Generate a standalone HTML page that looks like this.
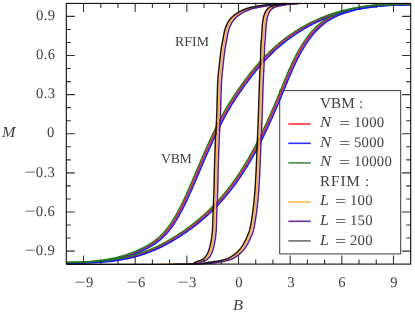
<!DOCTYPE html>
<html><head><meta charset="utf-8"><title>Hysteresis</title>
<style>
html,body{margin:0;padding:0;background:#fff;overflow:hidden;}
body{width:415px;height:312px;position:relative;overflow:hidden;font-family:"Liberation Serif",serif;}
.t{will-change:transform;text-rendering:geometricPrecision;position:absolute;white-space:nowrap;line-height:1;color:#404040;font-family:"Liberation Serif",serif;}
</style></head><body>
<svg width="415" height="312" viewBox="0 0 415 312" style="position:absolute;left:0;top:0">
<defs><clipPath id="cp"><rect x="66.3" y="2.9499999999999997" width="344.4" height="261.6"/></clipPath></defs>
<rect x="279.7" y="90.6" width="121.0" height="163.3" fill="#fff" stroke="#3a3a3a" stroke-width="1"/>
<g clip-path="url(#cp)" fill="none" stroke-linejoin="round" stroke-linecap="butt">
<path d="M66.50,262.79 L67.58,262.77 L68.66,262.75 L69.74,262.74 L70.81,262.72 L71.89,262.70 L72.97,262.68 L74.05,262.66 L75.13,262.64 L76.21,262.62 L77.29,262.60 L78.37,262.58 L79.44,262.55 L80.52,262.53 L81.60,262.50 L82.68,262.47 L83.76,262.44 L84.84,262.40 L85.92,262.37 L86.99,262.33 L88.07,262.29 L89.15,262.24 L90.23,262.19 L91.31,262.14 L92.39,262.09 L93.47,262.03 L94.55,261.97 L95.62,261.91 L96.70,261.84 L97.78,261.77 L98.86,261.70 L99.94,261.62 L101.02,261.53 L102.10,261.45 L103.18,261.35 L104.25,261.25 L105.33,261.15 L106.41,261.04 L107.49,260.93 L108.57,260.81 L109.65,260.69 L110.73,260.56 L111.80,260.43 L112.88,260.28 L113.96,260.14 L115.04,259.98 L116.12,259.82 L117.20,259.66 L118.28,259.48 L119.36,259.30 L120.43,259.12 L121.51,258.92 L122.59,258.72 L123.67,258.51 L124.75,258.30 L125.83,258.07 L126.91,257.84 L127.98,257.60 L129.06,257.36 L130.14,257.10 L131.22,256.84 L132.30,256.56 L133.38,256.28 L134.46,255.99 L135.54,255.69 L136.61,255.38 L137.69,255.07 L138.77,254.74 L139.85,254.40 L140.93,254.05 L142.01,253.70 L143.09,253.33 L144.17,252.96 L145.24,252.57 L146.32,252.18 L147.40,251.77 L148.48,251.36 L149.56,250.93 L150.64,250.50 L151.72,250.05 L152.79,249.60 L153.87,249.13 L154.95,248.66 L156.03,248.18 L157.11,247.68 L158.19,247.18 L159.27,246.67 L160.35,246.14 L161.42,245.61 L162.50,245.07 L163.58,244.52 L164.66,243.95 L165.74,243.38 L166.82,242.80 L167.90,242.21 L168.97,241.61 L170.05,240.99 L171.13,240.37 L172.21,239.74 L173.29,239.10 L174.37,238.45 L175.45,237.79 L176.53,237.11 L177.60,236.43 L178.68,235.74 L179.76,235.04 L180.84,234.33 L181.92,233.61 L183.00,232.88 L184.08,232.14 L185.16,231.39 L186.23,230.62 L187.31,229.85 L188.39,229.07 L189.47,228.28 L190.55,227.48 L191.63,226.67 L192.71,225.85 L193.78,225.02 L194.86,224.18 L195.94,223.32 L197.02,222.46 L198.10,221.58 L199.18,220.69 L200.26,219.79 L201.34,218.88 L202.41,217.95 L203.49,217.01 L204.57,216.06 L205.65,215.09 L206.73,214.11 L207.81,213.11 L208.89,212.10 L209.96,211.07 L211.04,210.03 L212.12,208.97 L213.20,207.90 L214.28,206.80 L215.36,205.69 L216.44,204.56 L217.52,203.42 L218.59,202.25 L219.67,201.07 L220.75,199.87 L221.83,198.64 L222.91,197.40 L223.99,196.14 L225.07,194.86 L226.15,193.55 L227.22,192.23 L228.30,190.88 L229.38,189.51 L230.46,188.12 L231.54,186.71 L232.62,185.28 L233.70,183.82 L234.77,182.33 L235.85,180.83 L236.93,179.30 L238.01,177.74 L239.09,176.16 L240.17,174.55 L241.25,172.92 L242.33,171.26 L243.40,169.58 L244.48,167.86 L245.56,166.12 L246.64,164.36 L247.72,162.56 L248.80,160.74 L249.88,158.89 L250.95,157.01 L252.03,155.10 L253.11,153.16 L254.19,151.19 L255.27,149.19 L256.35,147.16 L257.43,145.10 L258.51,143.01 L259.58,140.88 L260.66,138.72 L261.74,136.54 L262.82,134.32 L263.90,132.07 L264.98,129.80 L266.06,127.50 L267.14,125.17 L268.21,122.81 L269.29,120.43 L270.37,118.03 L271.45,115.60 L272.53,113.15 L273.61,110.67 L274.69,108.18 L275.76,105.66 L276.84,103.13 L277.92,100.58 L279.00,98.01 L280.08,95.42 L281.16,92.82 L282.24,90.20 L283.32,87.57 L284.39,84.93 L285.47,82.30 L286.55,79.68 L287.63,77.08 L288.71,74.52 L289.79,71.99 L290.87,69.51 L291.94,67.09 L293.02,64.73 L294.10,62.44 L295.18,60.21 L296.26,58.06 L297.34,55.96 L298.42,53.93 L299.50,51.96 L300.57,50.06 L301.65,48.21 L302.73,46.43 L303.81,44.71 L304.89,43.04 L305.97,41.43 L307.05,39.88 L308.13,38.38 L309.20,36.94 L310.28,35.56 L311.36,34.22 L312.44,32.94 L313.52,31.71 L314.60,30.53 L315.68,29.39 L316.75,28.31 L317.83,27.27 L318.91,26.27 L319.99,25.31 L321.07,24.40 L322.15,23.53 L323.23,22.69 L324.31,21.89 L325.38,21.13 L326.46,20.41 L327.54,19.71 L328.62,19.05 L329.70,18.42 L330.78,17.81 L331.86,17.24 L332.93,16.69 L334.01,16.16 L335.09,15.66 L336.17,15.18 L337.25,14.72 L338.33,14.28 L339.41,13.86 L340.49,13.45 L341.56,13.06 L342.64,12.69 L343.72,12.32 L344.80,11.97 L345.88,11.63 L346.96,11.29 L348.04,10.97 L349.12,10.66 L350.19,10.36 L351.27,10.07 L352.35,9.79 L353.43,9.52 L354.51,9.26 L355.59,9.01 L356.67,8.76 L357.74,8.53 L358.82,8.31 L359.90,8.09 L360.98,7.88 L362.06,7.68 L363.14,7.49 L364.22,7.31 L365.30,7.13 L366.37,6.96 L367.45,6.80 L368.53,6.65 L369.61,6.50 L370.69,6.36 L371.77,6.23 L372.85,6.10 L373.92,5.99 L375.00,5.87 L376.08,5.77 L377.16,5.66 L378.24,5.57 L379.32,5.48 L380.40,5.40 L381.48,5.32 L382.55,5.24 L383.63,5.17 L384.71,5.11 L385.79,5.05 L386.87,5.00 L387.95,4.94 L389.03,4.90 L390.11,4.85 L391.18,4.82 L392.26,4.78 L393.34,4.75 L394.42,4.72 L395.50,4.69 L396.58,4.67 L397.66,4.65 L398.73,4.63 L399.81,4.62 L400.89,4.61 L401.97,4.59 L403.05,4.59 L404.13,4.58 L405.21,4.57 L406.29,4.57 L407.36,4.57 L408.44,4.56 L409.52,4.56 L410.60,4.56" stroke="#ff1a1a" stroke-width="1.55"/>
<path d="M66.50,262.67 L67.58,262.67 L68.66,262.67 L69.74,262.67 L70.81,262.66 L71.89,262.66 L72.97,262.65 L74.05,262.64 L75.13,262.62 L76.21,262.61 L77.29,262.59 L78.37,262.56 L79.44,262.54 L80.52,262.51 L81.60,262.48 L82.68,262.44 L83.76,262.40 L84.84,262.36 L85.92,262.31 L86.99,262.25 L88.07,262.19 L89.15,262.13 L90.23,262.06 L91.31,261.99 L92.39,261.91 L93.47,261.83 L94.55,261.74 L95.62,261.64 L96.70,261.54 L97.78,261.43 L98.86,261.32 L99.94,261.20 L101.02,261.07 L102.10,260.94 L103.18,260.80 L104.25,260.65 L105.33,260.49 L106.41,260.33 L107.49,260.16 L108.57,259.98 L109.65,259.80 L110.73,259.60 L111.80,259.40 L112.88,259.19 L113.96,258.97 L115.04,258.74 L116.12,258.50 L117.20,258.25 L118.28,258.00 L119.36,257.73 L120.43,257.45 L121.51,257.17 L122.59,256.87 L123.67,256.57 L124.75,256.25 L125.83,255.93 L126.91,255.59 L127.98,255.24 L129.06,254.88 L130.14,254.51 L131.22,254.13 L132.30,253.74 L133.38,253.33 L134.46,252.91 L135.54,252.49 L136.61,252.05 L137.69,251.59 L138.77,251.13 L139.85,250.65 L140.93,250.16 L142.01,249.65 L143.09,249.13 L144.17,248.60 L145.24,248.06 L146.32,247.50 L147.40,246.92 L148.48,246.32 L149.56,245.70 L150.64,245.06 L151.72,244.38 L152.79,243.68 L153.87,242.95 L154.95,242.19 L156.03,241.40 L157.11,240.56 L158.19,239.69 L159.27,238.78 L160.35,237.82 L161.42,236.82 L162.50,235.78 L163.58,234.68 L164.66,233.53 L165.74,232.33 L166.82,231.08 L167.90,229.77 L168.97,228.39 L170.05,226.96 L171.13,225.47 L172.21,223.90 L173.29,222.28 L174.37,220.59 L175.45,218.84 L176.53,217.03 L177.60,215.16 L178.68,213.23 L179.76,211.24 L180.84,209.20 L181.92,207.10 L183.00,204.94 L184.08,202.74 L185.16,200.48 L186.23,198.17 L187.31,195.83 L188.39,193.44 L189.47,191.03 L190.55,188.58 L191.63,186.11 L192.71,183.61 L193.78,181.10 L194.86,178.58 L195.94,176.05 L197.02,173.52 L198.10,170.98 L199.18,168.45 L200.26,165.92 L201.34,163.41 L202.41,160.90 L203.49,158.40 L204.57,155.91 L205.65,153.44 L206.73,150.99 L207.81,148.55 L208.89,146.13 L209.96,143.73 L211.04,141.35 L212.12,139.00 L213.20,136.68 L214.28,134.38 L215.36,132.11 L216.44,129.87 L217.52,127.66 L218.59,125.49 L219.67,123.35 L220.75,121.25 L221.83,119.19 L222.91,117.17 L223.99,115.19 L225.07,113.25 L226.15,111.35 L227.22,109.48 L228.30,107.65 L229.38,105.85 L230.46,104.08 L231.54,102.35 L232.62,100.64 L233.70,98.96 L234.77,97.30 L235.85,95.67 L236.93,94.06 L238.01,92.47 L239.09,90.91 L240.17,89.35 L241.25,87.82 L242.33,86.31 L243.40,84.81 L244.48,83.32 L245.56,81.86 L246.64,80.41 L247.72,78.98 L248.80,77.56 L249.88,76.16 L250.95,74.78 L252.03,73.42 L253.11,72.08 L254.19,70.75 L255.27,69.44 L256.35,68.15 L257.43,66.87 L258.51,65.61 L259.58,64.38 L260.66,63.15 L261.74,61.95 L262.82,60.77 L263.90,59.60 L264.98,58.45 L266.06,57.32 L267.14,56.21 L268.21,55.12 L269.29,54.04 L270.37,52.98 L271.45,51.94 L272.53,50.92 L273.61,49.91 L274.69,48.92 L275.76,47.95 L276.84,46.99 L277.92,46.05 L279.00,45.12 L280.08,44.21 L281.16,43.32 L282.24,42.44 L283.32,41.57 L284.39,40.72 L285.47,39.89 L286.55,39.07 L287.63,38.26 L288.71,37.46 L289.79,36.68 L290.87,35.92 L291.94,35.16 L293.02,34.42 L294.10,33.69 L295.18,32.97 L296.26,32.27 L297.34,31.57 L298.42,30.89 L299.50,30.22 L300.57,29.56 L301.65,28.91 L302.73,28.28 L303.81,27.65 L304.89,27.03 L305.97,26.43 L307.05,25.84 L308.13,25.25 L309.20,24.68 L310.28,24.12 L311.36,23.56 L312.44,23.02 L313.52,22.49 L314.60,21.97 L315.68,21.45 L316.75,20.95 L317.83,20.46 L318.91,19.98 L319.99,19.50 L321.07,19.04 L322.15,18.59 L323.23,18.14 L324.31,17.71 L325.38,17.28 L326.46,16.86 L327.54,16.45 L328.62,16.05 L329.70,15.66 L330.78,15.28 L331.86,14.91 L332.93,14.54 L334.01,14.19 L335.09,13.84 L336.17,13.50 L337.25,13.17 L338.33,12.84 L339.41,12.53 L340.49,12.22 L341.56,11.92 L342.64,11.63 L343.72,11.35 L344.80,11.07 L345.88,10.80 L346.96,10.54 L348.04,10.28 L349.12,10.04 L350.19,9.80 L351.27,9.56 L352.35,9.34 L353.43,9.12 L354.51,8.90 L355.59,8.70 L356.67,8.50 L357.74,8.30 L358.82,8.11 L359.90,7.93 L360.98,7.76 L362.06,7.59 L363.14,7.42 L364.22,7.27 L365.30,7.11 L366.37,6.97 L367.45,6.83 L368.53,6.69 L369.61,6.56 L370.69,6.43 L371.77,6.31 L372.85,6.20 L373.92,6.09 L375.00,5.98 L376.08,5.88 L377.16,5.78 L378.24,5.69 L379.32,5.60 L380.40,5.52 L381.48,5.44 L382.55,5.36 L383.63,5.29 L384.71,5.22 L385.79,5.16 L386.87,5.10 L387.95,5.04 L389.03,4.99 L390.11,4.94 L391.18,4.89 L392.26,4.85 L393.34,4.81 L394.42,4.77 L395.50,4.74 L396.58,4.71 L397.66,4.68 L398.73,4.65 L399.81,4.63 L400.89,4.61 L401.97,4.59 L403.05,4.57 L404.13,4.55 L405.21,4.54 L406.29,4.53 L407.36,4.52 L408.44,4.51 L409.52,4.50 L410.60,4.50" stroke="#ff1a1a" stroke-width="1.55"/>
<path d="M67.20,263.10 L68.29,263.09 L69.38,263.07 L70.46,263.06 L71.55,263.05 L72.64,263.03 L73.73,263.02 L74.82,263.00 L75.90,262.99 L76.99,262.97 L78.08,262.95 L79.17,262.94 L80.27,262.92 L81.36,262.90 L82.45,262.88 L83.55,262.85 L84.64,262.83 L85.74,262.80 L86.83,262.77 L87.93,262.74 L89.03,262.71 L90.13,262.68 L91.24,262.64 L92.34,262.60 L93.45,262.56 L94.55,262.52 L95.66,262.47 L96.77,262.42 L97.89,262.37 L99.00,262.31 L100.12,262.26 L101.24,262.19 L102.36,262.13 L103.45,262.05 L104.53,261.95 L105.60,261.85 L106.68,261.75 L107.76,261.64 L108.84,261.53 L109.92,261.41 L111.00,261.29 L112.08,261.16 L113.15,261.03 L114.23,260.88 L115.31,260.74 L116.39,260.58 L117.47,260.42 L118.55,260.26 L119.63,260.08 L120.71,259.90 L121.78,259.72 L122.86,259.52 L123.94,259.32 L125.02,259.11 L126.10,258.90 L127.18,258.67 L128.26,258.44 L129.33,258.20 L130.41,257.96 L131.49,257.70 L132.57,257.44 L133.65,257.16 L134.73,256.88 L135.81,256.59 L136.89,256.29 L137.96,255.98 L139.04,255.67 L140.12,255.34 L141.20,255.00 L142.28,254.65 L143.36,254.30 L144.44,253.93 L145.52,253.56 L146.59,253.17 L147.67,252.78 L148.75,252.37 L149.83,251.96 L150.91,251.53 L151.99,251.10 L153.07,250.65 L154.14,250.20 L155.22,249.73 L156.30,249.26 L157.38,248.78 L158.46,248.28 L159.54,247.78 L160.62,247.27 L161.70,246.74 L162.77,246.21 L163.85,245.67 L164.93,245.12 L166.01,244.55 L167.09,243.98 L168.17,243.40 L169.25,242.81 L170.32,242.21 L171.40,241.59 L172.48,240.97 L173.56,240.34 L174.64,239.70 L175.72,239.05 L176.80,238.39 L177.88,237.71 L178.95,237.03 L180.03,236.34 L181.11,235.64 L182.19,234.93 L183.27,234.21 L184.35,233.48 L185.43,232.74 L186.51,231.99 L187.58,231.22 L188.66,230.45 L189.74,229.67 L190.82,228.88 L191.90,228.08 L192.98,227.27 L194.06,226.45 L195.13,225.62 L196.21,224.78 L197.29,223.92 L198.37,223.06 L199.45,222.18 L200.53,221.29 L201.61,220.39 L202.69,219.48 L203.76,218.55 L204.84,217.61 L205.92,216.66 L207.00,215.69 L208.08,214.71 L209.16,213.71 L210.24,212.70 L211.31,211.67 L212.39,210.63 L213.47,209.57 L214.55,208.50 L215.63,207.40 L216.71,206.29 L217.79,205.16 L218.87,204.02 L219.94,202.85 L221.02,201.67 L222.10,200.47 L223.18,199.24 L224.26,198.00 L225.34,196.74 L226.42,195.46 L227.50,194.15 L228.57,192.83 L229.65,191.48 L230.73,190.11 L231.81,188.72 L232.89,187.31 L233.97,185.88 L235.05,184.42 L236.12,182.93 L237.20,181.43 L238.28,179.90 L239.36,178.34 L240.44,176.76 L241.52,175.15 L242.60,173.52 L243.68,171.86 L244.75,170.18 L245.83,168.46 L246.91,166.72 L247.99,164.96 L249.07,163.16 L250.15,161.34 L251.23,159.49 L252.30,157.61 L253.38,155.70 L254.46,153.76 L255.54,151.79 L256.62,149.79 L257.70,147.76 L258.78,145.70 L259.86,143.61 L260.93,141.48 L262.01,139.32 L263.09,137.14 L264.17,134.92 L265.25,132.67 L266.33,130.40 L267.41,128.10 L268.49,125.77 L269.56,123.41 L270.64,121.03 L271.72,118.63 L272.80,116.20 L273.88,113.75 L274.96,111.27 L276.04,108.78 L277.11,106.26 L278.19,103.73 L279.27,101.18 L280.35,98.61 L281.43,96.02 L282.51,93.42 L283.59,90.80 L284.67,88.17 L285.74,85.53 L286.82,82.90 L287.90,80.28 L288.98,77.68 L290.06,75.12 L291.14,72.59 L292.22,70.11 L293.29,67.69 L294.37,65.33 L295.45,63.04 L296.53,60.81 L297.61,58.66 L298.69,56.56 L299.77,54.53 L300.85,52.56 L301.92,50.66 L303.00,48.81 L304.08,47.03 L305.16,45.31 L306.24,43.64 L307.32,42.03 L308.40,40.48 L309.48,38.98 L310.55,37.54 L311.63,36.16 L312.71,34.82 L313.79,33.54 L314.87,32.31 L315.95,31.13 L317.03,29.99 L318.10,28.91 L319.18,27.87 L320.26,26.87 L321.34,25.91 L322.42,25.00 L323.50,24.13 L324.58,23.29 L325.66,22.49 L326.73,21.73 L327.81,21.01 L328.89,20.31 L329.97,19.65 L331.05,19.02 L332.13,18.41 L333.21,17.84 L334.28,17.29 L335.36,16.76 L336.44,16.26 L337.52,15.78 L338.60,15.32 L339.68,14.88 L340.76,14.46 L341.84,14.05 L342.91,13.66 L343.99,13.29 L345.07,12.92 L346.15,12.57 L347.23,12.23 L348.31,11.89 L349.39,11.57 L350.47,11.26 L351.54,10.96 L352.62,10.67 L353.70,10.39 L354.78,10.12 L355.86,9.86 L356.94,9.61 L358.02,9.36 L359.09,9.13 L360.17,8.91 L361.25,8.69 L362.33,8.48 L363.41,8.28 L364.49,8.09 L365.57,7.91 L366.65,7.73 L367.72,7.56 L368.80,7.40 L369.88,7.25 L370.96,7.10 L372.04,6.96 L373.12,6.83 L374.20,6.70 L375.27,6.59 L376.30,6.45 L377.32,6.32 L378.35,6.19 L379.38,6.08 L380.41,5.97 L381.45,5.86 L382.49,5.77 L383.53,5.67 L384.57,5.59 L385.62,5.51 L386.66,5.44 L387.72,5.37 L388.77,5.31 L389.82,5.25 L390.88,5.20 L391.94,5.15 L393.00,5.11 L394.06,5.07 L395.12,5.03 L396.19,5.00 L397.26,4.97 L398.33,4.95 L399.40,4.93 L400.47,4.91 L401.54,4.89 L402.61,4.88 L403.69,4.87 L404.76,4.86 L405.84,4.85 L406.91,4.85 L407.99,4.84 L409.07,4.84 L410.15,4.84 L411.22,4.84" stroke="#1a1aff" stroke-width="1.55"/>
<path d="M67.26,263.01 L68.34,263.01 L69.42,263.01 L70.50,263.00 L71.58,263.00 L72.66,263.00 L73.75,262.99 L74.83,262.98 L75.92,262.97 L77.00,262.96 L78.09,262.94 L79.18,262.93 L80.27,262.91 L81.37,262.88 L82.46,262.86 L83.56,262.83 L84.66,262.80 L85.76,262.77 L86.86,262.73 L87.97,262.69 L89.08,262.64 L90.19,262.59 L91.30,262.54 L92.42,262.48 L93.54,262.42 L94.66,262.36 L95.78,262.29 L96.91,262.21 L98.04,262.14 L99.13,262.03 L100.21,261.92 L101.29,261.80 L102.37,261.67 L103.45,261.54 L104.53,261.40 L105.60,261.25 L106.68,261.09 L107.76,260.93 L108.84,260.76 L109.92,260.58 L111.00,260.40 L112.08,260.20 L113.15,260.00 L114.23,259.79 L115.31,259.57 L116.39,259.34 L117.47,259.10 L118.55,258.85 L119.63,258.60 L120.71,258.33 L121.78,258.05 L122.86,257.77 L123.94,257.47 L125.02,257.17 L126.10,256.85 L127.18,256.53 L128.26,256.19 L129.33,255.84 L130.41,255.48 L131.49,255.11 L132.57,254.73 L133.65,254.34 L134.73,253.93 L135.81,253.51 L136.89,253.09 L137.96,252.65 L139.04,252.19 L140.12,251.73 L141.20,251.25 L142.28,250.76 L143.36,250.25 L144.44,249.73 L145.52,249.20 L146.59,248.66 L147.67,248.10 L148.75,247.52 L149.83,246.92 L150.91,246.30 L151.99,245.66 L153.07,244.98 L154.14,244.28 L155.22,243.55 L156.30,242.79 L157.38,242.00 L158.46,241.16 L159.54,240.29 L160.62,239.38 L161.70,238.42 L162.77,237.42 L163.85,236.38 L164.93,235.28 L166.01,234.13 L167.09,232.93 L168.17,231.68 L169.25,230.37 L170.32,228.99 L171.40,227.56 L172.48,226.07 L173.56,224.50 L174.64,222.88 L175.72,221.19 L176.80,219.44 L177.88,217.63 L178.95,215.76 L180.03,213.83 L181.11,211.84 L182.19,209.80 L183.27,207.70 L184.35,205.54 L185.43,203.34 L186.51,201.08 L187.58,198.77 L188.66,196.43 L189.74,194.04 L190.82,191.63 L191.90,189.18 L192.98,186.71 L194.06,184.21 L195.13,181.70 L196.21,179.18 L197.29,176.65 L198.37,174.12 L199.45,171.58 L200.53,169.05 L201.61,166.52 L202.69,164.01 L203.76,161.50 L204.84,159.00 L205.92,156.51 L207.00,154.04 L208.08,151.59 L209.16,149.15 L210.24,146.73 L211.31,144.33 L212.39,141.95 L213.47,139.60 L214.55,137.28 L215.63,134.98 L216.71,132.71 L217.79,130.47 L218.87,128.26 L219.94,126.09 L221.02,123.95 L222.10,121.85 L223.18,119.79 L224.26,117.77 L225.34,115.79 L226.42,113.85 L227.50,111.95 L228.57,110.08 L229.65,108.25 L230.73,106.45 L231.81,104.68 L232.89,102.95 L233.97,101.24 L235.05,99.56 L236.12,97.90 L237.20,96.27 L238.28,94.66 L239.36,93.07 L240.44,91.51 L241.52,89.95 L242.60,88.42 L243.68,86.91 L244.75,85.41 L245.83,83.92 L246.91,82.46 L247.99,81.01 L249.07,79.58 L250.15,78.16 L251.23,76.76 L252.30,75.38 L253.38,74.02 L254.46,72.68 L255.54,71.35 L256.62,70.04 L257.70,68.75 L258.78,67.47 L259.86,66.21 L260.93,64.98 L262.01,63.75 L263.09,62.55 L264.17,61.37 L265.25,60.20 L266.33,59.05 L267.41,57.92 L268.49,56.81 L269.56,55.72 L270.64,54.64 L271.72,53.58 L272.80,52.54 L273.88,51.52 L274.96,50.51 L276.04,49.52 L277.11,48.55 L278.19,47.59 L279.27,46.65 L280.35,45.72 L281.43,44.81 L282.51,43.92 L283.59,43.04 L284.67,42.17 L285.74,41.32 L286.82,40.49 L287.90,39.67 L288.98,38.86 L290.06,38.06 L291.14,37.28 L292.22,36.52 L293.29,35.76 L294.37,35.02 L295.45,34.29 L296.53,33.57 L297.61,32.87 L298.69,32.17 L299.77,31.49 L300.85,30.82 L301.92,30.16 L303.00,29.51 L304.08,28.88 L305.16,28.25 L306.24,27.63 L307.32,27.03 L308.40,26.44 L309.48,25.85 L310.55,25.28 L311.63,24.72 L312.71,24.16 L313.79,23.62 L314.87,23.09 L315.95,22.57 L317.03,22.05 L318.10,21.55 L319.18,21.06 L320.26,20.58 L321.34,20.10 L322.42,19.64 L323.50,19.19 L324.58,18.74 L325.66,18.31 L326.73,17.88 L327.81,17.46 L328.89,17.05 L329.97,16.65 L331.05,16.26 L332.13,15.88 L333.21,15.51 L334.28,15.14 L335.36,14.79 L336.44,14.44 L337.52,14.10 L338.60,13.77 L339.68,13.44 L340.76,13.13 L341.84,12.82 L342.91,12.52 L343.99,12.23 L345.07,11.95 L346.15,11.67 L347.23,11.40 L348.31,11.14 L349.39,10.88 L350.47,10.64 L351.54,10.40 L352.62,10.16 L353.70,9.94 L354.78,9.72 L355.86,9.50 L356.94,9.30 L358.02,9.10 L359.09,8.90 L360.17,8.71 L361.25,8.53 L362.33,8.36 L363.41,8.19 L364.49,8.02 L365.57,7.87 L366.65,7.71 L367.72,7.57 L368.80,7.43 L369.88,7.29 L370.96,7.16 L372.04,7.03 L373.12,6.91 L374.20,6.80 L375.27,6.69 L376.35,6.58 L377.38,6.46 L378.41,6.34 L379.44,6.22 L380.47,6.12 L381.51,6.01 L382.55,5.92 L383.59,5.82 L384.63,5.74 L385.68,5.65 L386.72,5.57 L387.77,5.50 L388.82,5.43 L389.87,5.37 L390.92,5.30 L391.98,5.25 L393.03,5.19 L394.09,5.14 L395.15,5.10 L396.21,5.06 L397.28,5.02 L398.34,4.98 L399.40,4.95 L400.47,4.92 L401.54,4.89 L402.61,4.87 L403.68,4.85 L404.75,4.83 L405.82,4.81 L406.89,4.80 L407.97,4.79 L409.04,4.78 L410.12,4.77 L411.19,4.76" stroke="#1a1aff" stroke-width="1.55"/>
<path d="M65.80,262.48 L66.87,262.45 L67.94,262.43 L69.01,262.41 L70.08,262.39 L71.15,262.37 L72.22,262.35 L73.29,262.32 L74.35,262.30 L75.42,262.27 L76.49,262.25 L77.56,262.22 L78.62,262.19 L79.69,262.15 L80.75,262.12 L81.82,262.08 L82.88,262.04 L83.94,262.00 L85.00,261.96 L86.06,261.91 L87.12,261.86 L88.17,261.81 L89.23,261.75 L90.28,261.69 L91.33,261.62 L92.38,261.55 L93.43,261.48 L94.48,261.40 L95.52,261.32 L96.56,261.23 L97.60,261.14 L98.64,261.04 L99.68,260.94 L100.75,260.85 L101.83,260.75 L102.90,260.65 L103.98,260.55 L105.06,260.44 L106.14,260.33 L107.22,260.21 L108.30,260.09 L109.38,259.96 L110.45,259.83 L111.53,259.68 L112.61,259.54 L113.69,259.38 L114.77,259.22 L115.85,259.06 L116.93,258.88 L118.01,258.70 L119.08,258.52 L120.16,258.32 L121.24,258.12 L122.32,257.91 L123.40,257.70 L124.48,257.47 L125.56,257.24 L126.63,257.00 L127.71,256.76 L128.79,256.50 L129.87,256.24 L130.95,255.96 L132.03,255.68 L133.11,255.39 L134.19,255.09 L135.26,254.78 L136.34,254.47 L137.42,254.14 L138.50,253.80 L139.58,253.45 L140.66,253.10 L141.74,252.73 L142.82,252.36 L143.89,251.97 L144.97,251.58 L146.05,251.17 L147.13,250.76 L148.21,250.33 L149.29,249.90 L150.37,249.45 L151.44,249.00 L152.52,248.53 L153.60,248.06 L154.68,247.58 L155.76,247.08 L156.84,246.58 L157.92,246.07 L159.00,245.54 L160.07,245.01 L161.15,244.47 L162.23,243.92 L163.31,243.35 L164.39,242.78 L165.47,242.20 L166.55,241.61 L167.62,241.01 L168.70,240.39 L169.78,239.77 L170.86,239.14 L171.94,238.50 L173.02,237.85 L174.10,237.19 L175.18,236.51 L176.25,235.83 L177.33,235.14 L178.41,234.44 L179.49,233.73 L180.57,233.01 L181.65,232.28 L182.73,231.54 L183.81,230.79 L184.88,230.02 L185.96,229.25 L187.04,228.47 L188.12,227.68 L189.20,226.88 L190.28,226.07 L191.36,225.25 L192.43,224.42 L193.51,223.58 L194.59,222.72 L195.67,221.86 L196.75,220.98 L197.83,220.09 L198.91,219.19 L199.99,218.28 L201.06,217.35 L202.14,216.41 L203.22,215.46 L204.30,214.49 L205.38,213.51 L206.46,212.51 L207.54,211.50 L208.61,210.47 L209.69,209.43 L210.77,208.37 L211.85,207.30 L212.93,206.20 L214.01,205.09 L215.09,203.96 L216.17,202.82 L217.24,201.65 L218.32,200.47 L219.40,199.27 L220.48,198.04 L221.56,196.80 L222.64,195.54 L223.72,194.26 L224.80,192.95 L225.87,191.63 L226.95,190.28 L228.03,188.91 L229.11,187.52 L230.19,186.11 L231.27,184.68 L232.35,183.22 L233.42,181.73 L234.50,180.23 L235.58,178.70 L236.66,177.14 L237.74,175.56 L238.82,173.95 L239.90,172.32 L240.98,170.66 L242.05,168.98 L243.13,167.26 L244.21,165.52 L245.29,163.76 L246.37,161.96 L247.45,160.14 L248.53,158.29 L249.60,156.41 L250.68,154.50 L251.76,152.56 L252.84,150.59 L253.92,148.59 L255.00,146.56 L256.08,144.50 L257.16,142.41 L258.23,140.28 L259.31,138.12 L260.39,135.94 L261.47,133.72 L262.55,131.47 L263.63,129.20 L264.71,126.90 L265.79,124.57 L266.86,122.21 L267.94,119.83 L269.02,117.43 L270.10,115.00 L271.18,112.55 L272.26,110.07 L273.34,107.58 L274.41,105.06 L275.49,102.53 L276.57,99.98 L277.65,97.41 L278.73,94.82 L279.81,92.22 L280.89,89.60 L281.97,86.97 L283.04,84.33 L284.12,81.70 L285.20,79.08 L286.28,76.48 L287.36,73.92 L288.44,71.39 L289.52,68.91 L290.59,66.49 L291.67,64.13 L292.75,61.84 L293.83,59.61 L294.91,57.46 L295.99,55.36 L297.07,53.33 L298.15,51.36 L299.22,49.46 L300.30,47.61 L301.38,45.83 L302.46,44.11 L303.54,42.44 L304.62,40.83 L305.70,39.28 L306.78,37.78 L307.85,36.34 L308.93,34.96 L310.01,33.62 L311.09,32.34 L312.17,31.11 L313.25,29.93 L314.33,28.79 L315.40,27.71 L316.48,26.67 L317.56,25.67 L318.64,24.71 L319.72,23.80 L320.80,22.93 L321.88,22.09 L322.96,21.29 L324.03,20.53 L325.11,19.81 L326.19,19.11 L327.27,18.45 L328.35,17.82 L329.43,17.21 L330.51,16.64 L331.58,16.09 L332.66,15.56 L333.74,15.06 L334.82,14.58 L335.90,14.12 L336.98,13.68 L338.06,13.26 L339.14,12.85 L340.21,12.46 L341.29,12.09 L342.37,11.72 L343.45,11.37 L344.53,11.03 L345.61,10.69 L346.69,10.37 L347.77,10.06 L348.84,9.76 L349.92,9.47 L351.00,9.19 L352.08,8.92 L353.16,8.66 L354.24,8.41 L355.32,8.16 L356.39,7.93 L357.47,7.71 L358.55,7.49 L359.63,7.28 L360.71,7.08 L361.79,6.89 L362.87,6.71 L363.95,6.53 L365.02,6.36 L366.10,6.20 L367.18,6.05 L368.26,5.90 L369.34,5.76 L370.42,5.63 L371.50,5.50 L372.57,5.39 L373.71,5.30 L374.84,5.21 L375.97,5.14 L377.10,5.06 L378.22,4.99 L379.35,4.93 L380.47,4.87 L381.58,4.81 L382.70,4.76 L383.81,4.71 L384.92,4.66 L386.02,4.62 L387.13,4.58 L388.23,4.54 L389.33,4.51 L390.43,4.48 L391.53,4.45 L392.62,4.43 L393.71,4.41 L394.81,4.39 L395.90,4.37 L396.99,4.35 L398.07,4.34 L399.16,4.33 L400.25,4.32 L401.33,4.31 L402.41,4.30 L403.50,4.30 L404.58,4.29 L405.66,4.29 L406.74,4.29 L407.82,4.29 L408.90,4.28 L409.98,4.28" stroke="#1f7a1f" stroke-width="1.55"/>
<path d="M65.74,262.33 L66.81,262.33 L67.89,262.33 L68.97,262.33 L70.05,262.32 L71.12,262.31 L72.20,262.30 L73.27,262.29 L74.34,262.27 L75.41,262.25 L76.48,262.23 L77.55,262.20 L78.62,262.17 L79.68,262.14 L80.74,262.09 L81.80,262.05 L82.86,262.00 L83.91,261.95 L84.97,261.88 L86.02,261.82 L87.07,261.75 L88.12,261.67 L89.16,261.59 L90.20,261.50 L91.24,261.40 L92.28,261.30 L93.31,261.19 L94.34,261.07 L95.37,260.95 L96.43,260.83 L97.51,260.72 L98.59,260.60 L99.67,260.47 L100.75,260.34 L101.83,260.20 L102.90,260.05 L103.98,259.89 L105.06,259.73 L106.14,259.56 L107.22,259.38 L108.30,259.20 L109.38,259.00 L110.45,258.80 L111.53,258.59 L112.61,258.37 L113.69,258.14 L114.77,257.90 L115.85,257.65 L116.93,257.40 L118.01,257.13 L119.08,256.85 L120.16,256.57 L121.24,256.27 L122.32,255.97 L123.40,255.65 L124.48,255.33 L125.56,254.99 L126.63,254.64 L127.71,254.28 L128.79,253.91 L129.87,253.53 L130.95,253.14 L132.03,252.73 L133.11,252.31 L134.19,251.89 L135.26,251.45 L136.34,250.99 L137.42,250.53 L138.50,250.05 L139.58,249.56 L140.66,249.05 L141.74,248.53 L142.82,248.00 L143.89,247.46 L144.97,246.90 L146.05,246.32 L147.13,245.72 L148.21,245.10 L149.29,244.46 L150.37,243.78 L151.44,243.08 L152.52,242.35 L153.60,241.59 L154.68,240.80 L155.76,239.96 L156.84,239.09 L157.92,238.18 L159.00,237.22 L160.07,236.22 L161.15,235.18 L162.23,234.08 L163.31,232.93 L164.39,231.73 L165.47,230.48 L166.55,229.17 L167.62,227.79 L168.70,226.36 L169.78,224.87 L170.86,223.30 L171.94,221.68 L173.02,219.99 L174.10,218.24 L175.18,216.43 L176.25,214.56 L177.33,212.63 L178.41,210.64 L179.49,208.60 L180.57,206.50 L181.65,204.34 L182.73,202.14 L183.81,199.88 L184.88,197.57 L185.96,195.23 L187.04,192.84 L188.12,190.43 L189.20,187.98 L190.28,185.51 L191.36,183.01 L192.43,180.50 L193.51,177.98 L194.59,175.45 L195.67,172.92 L196.75,170.38 L197.83,167.85 L198.91,165.32 L199.99,162.81 L201.06,160.30 L202.14,157.80 L203.22,155.31 L204.30,152.84 L205.38,150.39 L206.46,147.95 L207.54,145.53 L208.61,143.13 L209.69,140.75 L210.77,138.40 L211.85,136.08 L212.93,133.78 L214.01,131.51 L215.09,129.27 L216.17,127.06 L217.24,124.89 L218.32,122.75 L219.40,120.65 L220.48,118.59 L221.56,116.57 L222.64,114.59 L223.72,112.65 L224.80,110.75 L225.87,108.88 L226.95,107.05 L228.03,105.25 L229.11,103.48 L230.19,101.75 L231.27,100.04 L232.35,98.36 L233.42,96.70 L234.50,95.07 L235.58,93.46 L236.66,91.87 L237.74,90.31 L238.82,88.75 L239.90,87.22 L240.98,85.71 L242.05,84.21 L243.13,82.72 L244.21,81.26 L245.29,79.81 L246.37,78.38 L247.45,76.96 L248.53,75.56 L249.60,74.18 L250.68,72.82 L251.76,71.48 L252.84,70.15 L253.92,68.84 L255.00,67.55 L256.08,66.27 L257.16,65.01 L258.23,63.78 L259.31,62.55 L260.39,61.35 L261.47,60.17 L262.55,59.00 L263.63,57.85 L264.71,56.72 L265.79,55.61 L266.86,54.52 L267.94,53.44 L269.02,52.38 L270.10,51.34 L271.18,50.32 L272.26,49.31 L273.34,48.32 L274.41,47.35 L275.49,46.39 L276.57,45.45 L277.65,44.52 L278.73,43.61 L279.81,42.72 L280.89,41.84 L281.97,40.97 L283.04,40.12 L284.12,39.29 L285.20,38.47 L286.28,37.66 L287.36,36.86 L288.44,36.08 L289.52,35.32 L290.59,34.56 L291.67,33.82 L292.75,33.09 L293.83,32.37 L294.91,31.67 L295.99,30.97 L297.07,30.29 L298.15,29.62 L299.22,28.96 L300.30,28.31 L301.38,27.68 L302.46,27.05 L303.54,26.43 L304.62,25.83 L305.70,25.24 L306.78,24.65 L307.85,24.08 L308.93,23.52 L310.01,22.96 L311.09,22.42 L312.17,21.89 L313.25,21.37 L314.33,20.85 L315.40,20.35 L316.48,19.86 L317.56,19.38 L318.64,18.90 L319.72,18.44 L320.80,17.99 L321.88,17.54 L322.96,17.11 L324.03,16.68 L325.11,16.26 L326.19,15.85 L327.27,15.45 L328.35,15.06 L329.43,14.68 L330.51,14.31 L331.58,13.94 L332.66,13.59 L333.74,13.24 L334.82,12.90 L335.90,12.57 L336.98,12.24 L338.06,11.93 L339.14,11.62 L340.21,11.32 L341.29,11.03 L342.37,10.75 L343.45,10.47 L344.53,10.20 L345.61,9.94 L346.69,9.68 L347.77,9.44 L348.84,9.20 L349.92,8.96 L351.00,8.74 L352.08,8.52 L353.16,8.30 L354.24,8.10 L355.32,7.90 L356.39,7.70 L357.47,7.51 L358.55,7.33 L359.63,7.16 L360.71,6.99 L361.79,6.82 L362.87,6.67 L363.95,6.51 L365.02,6.37 L366.10,6.23 L367.18,6.09 L368.26,5.96 L369.34,5.83 L370.42,5.71 L371.50,5.60 L372.57,5.49 L373.66,5.38 L374.79,5.30 L375.91,5.23 L377.04,5.16 L378.16,5.09 L379.28,5.02 L380.40,4.96 L381.52,4.90 L382.63,4.85 L383.75,4.80 L384.86,4.75 L385.97,4.70 L387.08,4.66 L388.18,4.62 L389.29,4.58 L390.39,4.54 L391.49,4.51 L392.59,4.48 L393.69,4.45 L394.78,4.42 L395.88,4.40 L396.97,4.37 L398.06,4.35 L399.16,4.33 L400.25,4.32 L401.33,4.30 L402.42,4.29 L403.51,4.28 L404.59,4.27 L405.68,4.26 L406.76,4.25 L407.84,4.24 L408.93,4.24 L410.01,4.24" stroke="#1f7a1f" stroke-width="1.55"/>
<path d="M66.50,264.80 L67.85,264.80 L69.20,264.80 L70.55,264.80 L71.90,264.80 L73.25,264.80 L74.61,264.80 L75.96,264.80 L77.31,264.80 L78.66,264.80 L80.01,264.80 L81.36,264.80 L82.71,264.80 L84.06,264.80 L85.41,264.80 L86.76,264.80 L88.12,264.80 L89.47,264.80 L90.82,264.80 L92.17,264.80 L93.52,264.80 L94.87,264.79 L96.22,264.79 L97.57,264.79 L98.92,264.79 L100.27,264.79 L101.63,264.79 L102.98,264.79 L104.33,264.79 L105.68,264.79 L107.03,264.79 L108.38,264.79 L109.73,264.79 L111.08,264.79 L112.43,264.79 L113.78,264.79 L115.13,264.78 L116.49,264.78 L117.84,264.78 L119.19,264.78 L120.54,264.78 L121.89,264.78 L123.24,264.78 L124.59,264.78 L125.94,264.78 L127.29,264.77 L128.64,264.77 L130.00,264.77 L131.35,264.77 L132.70,264.77 L134.05,264.77 L135.40,264.77 L136.75,264.77 L138.10,264.76 L139.45,264.76 L140.80,264.76 L142.15,264.76 L143.50,264.76 L144.86,264.76 L146.21,264.75 L147.56,264.75 L148.91,264.75 L150.26,264.75 L151.61,264.75 L152.96,264.74 L154.31,264.74 L155.66,264.73 L157.01,264.73 L158.37,264.72 L159.72,264.71 L161.07,264.71 L162.42,264.70 L163.77,264.69 L165.12,264.67 L166.47,264.66 L167.82,264.65 L169.17,264.64 L170.52,264.62 L171.87,264.61 L173.23,264.59 L174.58,264.57 L175.93,264.56 L177.28,264.54 L178.63,264.52 L179.98,264.50 L181.33,264.48 L182.69,264.45 L184.05,264.42 L185.42,264.39 L186.78,264.35 L188.13,264.29 L189.48,264.23 L190.81,264.16 L192.14,264.08 L193.45,263.92 L194.75,263.58 L196.03,263.12 L197.31,262.59 L198.57,262.08 L199.86,261.62 L201.17,261.16 L202.48,260.68 L203.71,260.13 L204.84,259.51 L205.86,258.73 L206.82,257.76 L207.71,256.66 L208.49,255.52 L209.14,254.38 L209.72,253.17 L210.24,251.91 L210.72,250.62 L211.14,249.32 L211.52,248.04 L211.87,246.73 L212.19,245.42 L212.48,244.09 L212.75,242.77 L213.00,241.44 L213.24,240.11 L213.46,238.77 L213.65,237.44 L213.82,236.10 L213.98,234.76 L214.13,233.41 L214.25,232.07 L214.36,230.72 L214.43,229.37 L214.50,228.02 L214.55,226.68 L214.60,225.33 L214.65,223.98 L214.69,222.63 L214.73,221.27 L214.76,219.92 L214.80,218.57 L214.84,217.22 L214.87,215.87 L214.91,214.52 L214.96,213.17 L215.01,211.82 L215.06,210.47 L215.12,209.12 L215.18,207.77 L215.24,206.42 L215.31,205.07 L215.37,203.72 L215.44,202.37 L215.50,201.02 L215.56,199.67 L215.61,198.32 L215.67,196.97 L215.71,195.62 L215.76,194.27 L215.80,192.92 L215.84,191.57 L215.87,190.22 L215.91,188.87 L215.95,187.52 L215.98,186.17 L216.01,184.82 L216.04,183.47 L216.08,182.12 L216.11,180.77 L216.14,179.42 L216.17,178.07 L216.20,176.72 L216.23,175.36 L216.26,174.01 L216.29,172.66 L216.33,171.31 L216.36,169.96 L216.40,168.61 L216.43,167.26 L216.47,165.91 L216.51,164.56 L216.55,163.21 L216.60,161.86 L216.64,160.51 L216.68,159.16 L216.72,157.81 L216.77,156.46 L216.81,155.11 L216.86,153.76 L216.90,152.41 L216.95,151.06 L217.00,149.71 L217.04,148.36 L217.09,147.01 L217.15,145.66 L217.20,144.31 L217.25,142.96 L217.30,141.61 L217.36,140.26 L217.42,138.91 L217.48,137.56 L217.54,136.21 L217.60,134.86 L217.67,133.51 L217.75,132.16 L217.83,130.81 L217.91,129.46 L218.00,128.12 L218.08,126.77 L218.16,125.42 L218.24,124.07 L218.32,122.72 L218.39,121.37 L218.45,120.02 L218.51,118.67 L218.57,117.32 L218.62,115.97 L218.67,114.62 L218.72,113.27 L218.76,111.92 L218.80,110.57 L218.84,109.22 L218.88,107.87 L218.92,106.52 L218.95,105.17 L218.99,103.82 L219.02,102.46 L219.06,101.11 L219.09,99.76 L219.12,98.41 L219.16,97.06 L219.20,95.71 L219.24,94.36 L219.28,93.01 L219.32,91.66 L219.36,90.31 L219.41,88.96 L219.46,87.61 L219.51,86.26 L219.56,84.91 L219.62,83.56 L219.69,82.21 L219.75,80.87 L219.83,79.52 L219.92,78.17 L220.02,76.83 L220.14,75.48 L220.28,74.14 L220.42,72.79 L220.57,71.45 L220.72,70.11 L220.88,68.76 L221.03,67.42 L221.18,66.08 L221.33,64.73 L221.47,63.39 L221.61,62.05 L221.75,60.70 L221.89,59.36 L222.03,58.01 L222.18,56.67 L222.33,55.32 L222.48,53.98 L222.65,52.64 L222.82,51.30 L223.00,49.97 L223.21,48.63 L223.42,47.30 L223.66,45.97 L223.91,44.64 L224.16,43.32 L224.42,41.99 L224.68,40.66 L224.94,39.33 L225.18,38.00 L225.42,36.67 L225.65,35.34 L225.90,34.01 L226.17,32.68 L226.48,31.38 L226.83,30.07 L227.23,28.77 L227.67,27.48 L228.16,26.21 L228.69,24.98 L229.26,23.78 L229.91,22.59 L230.64,21.42 L231.42,20.30 L232.26,19.23 L233.13,18.24 L234.07,17.30 L235.08,16.39 L236.14,15.52 L237.24,14.70 L238.36,13.92 L239.48,13.20 L240.63,12.50 L241.82,11.85 L243.04,11.23 L244.26,10.65 L245.50,10.12 L246.75,9.61 L248.02,9.13 L249.30,8.68 L250.59,8.28 L251.89,7.93 L253.20,7.61 L254.52,7.33 L255.85,7.07 L257.18,6.83 L258.51,6.60 L259.84,6.38 L261.18,6.17 L262.52,5.97 L263.86,5.78 L265.20,5.60 L266.53,5.43 L267.88,5.26 L269.22,5.10 L270.56,4.94 L271.90,4.79 L273.25,4.65 L274.59,4.53 L275.94,4.43 L277.28,4.32 L278.63,4.23 L279.98,4.13 L281.33,4.04 L282.68,3.96 L284.02,3.88 L285.37,3.81 L286.72,3.74 L288.07,3.68 L289.42,3.62 L290.77,3.57 L292.12,3.53 L293.47,3.48 L294.82,3.44 L296.17,3.40 L297.52,3.37 L298.88,3.33 L300.23,3.30 L301.58,3.27 L302.93,3.24 L304.28,3.21 L305.63,3.19 L306.98,3.16 L308.33,3.13 L309.68,3.10 L311.03,3.07 L312.38,3.04 L313.73,3.01 L315.08,2.99 L316.43,2.96 L317.79,2.94 L319.14,2.91 L320.49,2.89 L321.84,2.87 L323.19,2.85 L324.54,2.83 L325.89,2.82 L327.24,2.81 L328.59,2.80 L329.94,2.80 L331.29,2.80 L332.64,2.80 L334.00,2.79 L335.35,2.79 L336.70,2.79 L338.05,2.79 L339.40,2.79 L340.75,2.79 L342.10,2.78 L343.45,2.78 L344.80,2.78 L346.15,2.78 L347.50,2.78 L348.86,2.78 L350.21,2.78 L351.56,2.77 L352.91,2.77 L354.26,2.77 L355.61,2.77 L356.96,2.77 L358.31,2.77 L359.66,2.77 L361.01,2.77 L362.36,2.77 L363.72,2.76 L365.07,2.76 L366.42,2.76 L367.77,2.76 L369.12,2.76 L370.47,2.76 L371.82,2.76 L373.17,2.76 L374.52,2.76 L375.87,2.76 L377.22,2.76 L378.58,2.76 L379.93,2.76 L381.28,2.76 L382.63,2.75 L383.98,2.75 L385.33,2.75 L386.68,2.75 L388.03,2.75 L389.38,2.75 L390.73,2.75 L392.09,2.75 L393.44,2.75 L394.79,2.75 L396.14,2.75 L397.49,2.75 L398.84,2.75 L400.19,2.75 L401.54,2.75 L402.89,2.75 L404.24,2.75 L405.60,2.75 L406.95,2.75 L408.30,2.75 L409.65,2.75 L411.00,2.75" stroke="#ffb030" stroke-width="1.7"/>
<path d="M66.50,264.80 L67.85,264.80 L69.20,264.80 L70.55,264.80 L71.90,264.80 L73.25,264.80 L74.61,264.80 L75.96,264.80 L77.31,264.80 L78.66,264.80 L80.01,264.80 L81.36,264.80 L82.71,264.80 L84.06,264.80 L85.41,264.80 L86.76,264.80 L88.11,264.80 L89.47,264.80 L90.82,264.80 L92.17,264.80 L93.52,264.80 L94.87,264.79 L96.22,264.79 L97.57,264.79 L98.92,264.79 L100.27,264.79 L101.62,264.79 L102.97,264.79 L104.33,264.79 L105.68,264.79 L107.03,264.79 L108.38,264.79 L109.73,264.79 L111.08,264.79 L112.43,264.79 L113.78,264.78 L115.13,264.78 L116.48,264.78 L117.83,264.78 L119.18,264.78 L120.54,264.78 L121.89,264.78 L123.24,264.78 L124.59,264.78 L125.94,264.78 L127.29,264.77 L128.64,264.77 L129.99,264.77 L131.34,264.77 L132.69,264.77 L134.04,264.77 L135.40,264.77 L136.75,264.77 L138.10,264.76 L139.45,264.76 L140.80,264.76 L142.15,264.76 L143.50,264.76 L144.85,264.76 L146.20,264.75 L147.55,264.75 L148.90,264.75 L150.25,264.75 L151.61,264.75 L152.96,264.74 L154.31,264.74 L155.66,264.74 L157.01,264.73 L158.36,264.73 L159.71,264.72 L161.06,264.71 L162.41,264.71 L163.76,264.70 L165.11,264.69 L166.47,264.68 L167.82,264.67 L169.17,264.66 L170.52,264.65 L171.87,264.64 L173.22,264.63 L174.57,264.61 L175.92,264.60 L177.27,264.59 L178.62,264.57 L179.97,264.56 L181.32,264.54 L182.68,264.53 L184.03,264.51 L185.38,264.50 L186.73,264.48 L188.08,264.46 L189.43,264.43 L190.78,264.40 L192.14,264.37 L193.49,264.34 L194.84,264.30 L196.19,264.25 L197.54,264.20 L198.88,264.15 L200.23,264.09 L201.57,263.99 L202.91,263.85 L204.25,263.67 L205.59,263.48 L206.93,263.27 L208.27,263.06 L209.61,262.86 L210.95,262.67 L212.29,262.49 L213.63,262.31 L214.97,262.13 L216.31,261.94 L217.64,261.74 L218.98,261.53 L220.31,261.31 L221.63,261.07 L222.96,260.81 L224.29,260.52 L225.61,260.20 L226.92,259.84 L228.19,259.44 L229.43,258.96 L230.66,258.38 L231.87,257.74 L233.04,257.04 L234.18,256.31 L235.28,255.56 L236.37,254.76 L237.43,253.90 L238.46,253.00 L239.46,252.07 L240.41,251.12 L241.31,250.14 L242.18,249.10 L243.01,248.02 L243.80,246.91 L244.54,245.79 L245.24,244.64 L245.90,243.46 L246.52,242.25 L247.13,241.04 L247.72,239.83 L248.29,238.61 L248.85,237.37 L249.38,236.13 L249.90,234.88 L250.42,233.63 L250.91,232.36 L251.33,231.09 L251.68,229.79 L251.99,228.49 L252.28,227.17 L252.55,225.85 L252.80,224.52 L253.03,223.18 L253.25,221.85 L253.47,220.50 L253.67,219.16 L253.88,217.83 L254.08,216.49 L254.27,215.15 L254.46,213.82 L254.64,212.48 L254.81,211.14 L254.98,209.80 L255.15,208.46 L255.31,207.11 L255.46,205.77 L255.61,204.43 L255.75,203.09 L255.90,201.74 L256.04,200.40 L256.18,199.06 L256.31,197.71 L256.44,196.36 L256.56,195.02 L256.67,193.67 L256.78,192.33 L256.87,190.98 L256.97,189.63 L257.06,188.29 L257.15,186.94 L257.23,185.59 L257.31,184.24 L257.39,182.89 L257.47,181.54 L257.55,180.20 L257.62,178.85 L257.69,177.50 L257.76,176.15 L257.83,174.80 L257.90,173.45 L257.97,172.10 L258.03,170.75 L258.09,169.40 L258.16,168.05 L258.22,166.70 L258.28,165.35 L258.35,164.00 L258.40,162.65 L258.46,161.30 L258.52,159.95 L258.57,158.60 L258.63,157.25 L258.68,155.90 L258.73,154.55 L258.78,153.20 L258.83,151.85 L258.88,150.50 L258.94,149.15 L258.99,147.80 L259.04,146.45 L259.10,145.10 L259.15,143.76 L259.21,142.41 L259.27,141.06 L259.32,139.71 L259.38,138.36 L259.44,137.01 L259.50,135.66 L259.56,134.31 L259.62,132.96 L259.68,131.61 L259.74,130.26 L259.80,128.91 L259.86,127.56 L259.91,126.21 L259.97,124.86 L260.02,123.51 L260.08,122.16 L260.13,120.81 L260.18,119.46 L260.23,118.11 L260.28,116.76 L260.33,115.41 L260.37,114.06 L260.42,112.71 L260.46,111.36 L260.50,110.01 L260.55,108.66 L260.59,107.31 L260.63,105.96 L260.67,104.61 L260.71,103.26 L260.75,101.91 L260.79,100.56 L260.83,99.21 L260.87,97.86 L260.91,96.51 L260.95,95.16 L260.99,93.81 L261.03,92.46 L261.08,91.11 L261.12,89.76 L261.17,88.41 L261.21,87.06 L261.26,85.71 L261.31,84.36 L261.36,83.01 L261.41,81.66 L261.47,80.31 L261.53,78.96 L261.59,77.61 L261.66,76.26 L261.73,74.91 L261.80,73.56 L261.87,72.21 L261.94,70.86 L262.01,69.51 L262.07,68.16 L262.14,66.81 L262.20,65.46 L262.26,64.12 L262.31,62.77 L262.36,61.42 L262.40,60.06 L262.44,58.71 L262.47,57.36 L262.50,56.01 L262.54,54.66 L262.57,53.31 L262.60,51.96 L262.64,50.61 L262.68,49.26 L262.73,47.91 L262.78,46.56 L262.84,45.21 L262.91,43.86 L263.02,42.52 L263.17,41.17 L263.32,39.83 L263.44,38.49 L263.54,37.14 L263.62,35.79 L263.70,34.44 L263.77,33.09 L263.84,31.74 L263.91,30.39 L263.99,29.04 L264.08,27.69 L264.18,26.35 L264.30,25.00 L264.44,23.66 L264.62,22.32 L264.83,20.98 L265.06,19.64 L265.32,18.32 L265.62,17.01 L265.97,15.70 L266.41,14.40 L266.91,13.14 L267.48,11.95 L268.20,10.77 L269.04,9.68 L269.97,8.76 L271.06,7.93 L272.25,7.24 L273.48,6.75 L274.75,6.35 L276.07,6.01 L277.41,5.72 L278.75,5.45 L280.07,5.19 L281.40,4.94 L282.73,4.71 L284.07,4.48 L285.41,4.29 L286.75,4.11 L288.09,3.97 L289.44,3.87 L290.78,3.78 L292.13,3.70 L293.47,3.62 L294.82,3.56 L296.17,3.49 L297.53,3.44 L298.88,3.38 L300.23,3.34 L301.58,3.29 L302.93,3.25 L304.28,3.22 L305.63,3.18 L306.98,3.15 L308.33,3.12 L309.69,3.09 L311.04,3.06 L312.39,3.03 L313.74,3.00 L315.09,2.97 L316.44,2.95 L317.79,2.92 L319.14,2.90 L320.49,2.88 L321.84,2.86 L323.19,2.85 L324.54,2.83 L325.89,2.82 L327.25,2.81 L328.60,2.80 L329.95,2.80 L331.30,2.80 L332.65,2.80 L334.00,2.79 L335.35,2.79 L336.70,2.79 L338.05,2.79 L339.40,2.79 L340.75,2.79 L342.10,2.78 L343.46,2.78 L344.81,2.78 L346.16,2.78 L347.51,2.78 L348.86,2.78 L350.21,2.78 L351.56,2.77 L352.91,2.77 L354.26,2.77 L355.61,2.77 L356.96,2.77 L358.31,2.77 L359.66,2.77 L361.02,2.77 L362.37,2.77 L363.72,2.76 L365.07,2.76 L366.42,2.76 L367.77,2.76 L369.12,2.76 L370.47,2.76 L371.82,2.76 L373.17,2.76 L374.52,2.76 L375.88,2.76 L377.23,2.76 L378.58,2.76 L379.93,2.76 L381.28,2.76 L382.63,2.75 L383.98,2.75 L385.33,2.75 L386.68,2.75 L388.03,2.75 L389.38,2.75 L390.74,2.75 L392.09,2.75 L393.44,2.75 L394.79,2.75 L396.14,2.75 L397.49,2.75 L398.84,2.75 L400.19,2.75 L401.54,2.75 L402.89,2.75 L404.24,2.75 L405.60,2.75 L406.95,2.75 L408.30,2.75 L409.65,2.75 L411.00,2.75" stroke="#ffb030" stroke-width="1.7"/>
<path d="M66.50,264.80 L67.85,264.80 L69.20,264.80 L70.55,264.80 L71.90,264.80 L73.25,264.80 L74.61,264.80 L75.96,264.80 L77.31,264.80 L78.66,264.80 L80.01,264.80 L81.36,264.80 L82.71,264.80 L84.06,264.80 L85.41,264.80 L86.76,264.80 L88.12,264.80 L89.47,264.80 L90.82,264.80 L92.17,264.80 L93.52,264.80 L94.87,264.79 L96.22,264.79 L97.57,264.79 L98.92,264.79 L100.27,264.79 L101.63,264.79 L102.98,264.79 L104.33,264.79 L105.68,264.79 L107.03,264.79 L108.38,264.79 L109.73,264.79 L111.08,264.79 L112.43,264.79 L113.78,264.79 L115.13,264.78 L116.49,264.78 L117.84,264.78 L119.19,264.78 L120.54,264.78 L121.89,264.78 L123.24,264.78 L124.59,264.78 L125.94,264.78 L127.29,264.77 L128.64,264.77 L130.00,264.77 L131.35,264.77 L132.70,264.77 L134.05,264.77 L135.40,264.77 L136.75,264.77 L138.10,264.76 L139.45,264.76 L140.80,264.76 L142.15,264.76 L143.50,264.76 L144.86,264.76 L146.21,264.75 L147.56,264.75 L148.91,264.75 L150.26,264.75 L151.61,264.75 L152.96,264.74 L154.31,264.74 L155.66,264.73 L157.01,264.73 L158.37,264.72 L159.72,264.71 L161.07,264.71 L162.42,264.70 L163.77,264.69 L165.12,264.67 L166.47,264.66 L167.82,264.65 L169.17,264.64 L170.52,264.62 L171.87,264.61 L173.23,264.59 L174.58,264.57 L175.93,264.56 L177.28,264.54 L178.63,264.52 L179.98,264.50 L181.33,264.48 L182.69,264.45 L184.05,264.42 L185.42,264.39 L186.78,264.35 L188.13,264.29 L189.48,264.23 L190.81,264.16 L192.26,264.10 L193.83,263.99 L195.69,263.76 L197.74,263.45 L199.11,262.94 L200.37,262.43 L201.66,261.97 L202.97,261.51 L204.28,261.03 L205.51,260.48 L206.64,259.86 L207.66,259.08 L208.62,258.11 L209.51,257.01 L210.29,255.87 L210.94,254.73 L211.52,253.52 L212.04,252.26 L212.52,250.97 L212.94,249.67 L213.32,248.39 L213.67,247.08 L213.99,245.77 L214.28,244.44 L214.55,243.12 L214.80,241.79 L215.04,240.46 L215.26,239.12 L215.45,237.79 L215.62,236.45 L215.78,235.11 L215.93,233.76 L216.05,232.42 L216.16,231.07 L216.23,229.72 L216.30,228.37 L216.35,227.03 L216.40,225.68 L216.45,224.33 L216.49,222.98 L216.53,221.62 L216.56,220.27 L216.60,218.92 L216.64,217.57 L216.67,216.22 L216.71,214.87 L216.76,213.52 L216.81,212.17 L216.86,210.82 L216.92,209.47 L216.98,208.12 L217.04,206.77 L217.11,205.42 L217.17,204.07 L217.24,202.72 L217.30,201.37 L217.36,200.02 L217.41,198.67 L217.47,197.32 L217.51,195.97 L217.56,194.62 L217.60,193.27 L217.64,191.92 L217.67,190.57 L217.71,189.22 L217.75,187.87 L217.78,186.52 L217.81,185.17 L217.84,183.82 L217.88,182.47 L217.91,181.12 L217.94,179.77 L217.97,178.42 L218.00,177.07 L218.03,175.71 L218.06,174.36 L218.09,173.01 L218.13,171.66 L218.16,170.31 L218.20,168.96 L218.23,167.61 L218.27,166.26 L218.31,164.91 L218.35,163.56 L218.40,162.21 L218.44,160.86 L218.48,159.51 L218.52,158.16 L218.57,156.81 L218.61,155.46 L218.66,154.11 L218.70,152.76 L218.75,151.41 L218.80,150.06 L218.84,148.71 L218.89,147.36 L218.95,146.01 L219.00,144.66 L219.05,143.31 L219.10,141.96 L219.16,140.61 L219.22,139.26 L219.28,137.91 L219.34,136.56 L219.40,135.21 L219.47,133.86 L219.55,132.51 L219.63,131.16 L219.71,129.81 L219.80,128.47 L219.88,127.12 L219.96,125.77 L220.04,124.42 L220.12,123.07 L220.19,121.72 L220.25,120.37 L220.31,119.02 L220.37,117.67 L220.42,116.32 L220.47,114.97 L220.52,113.62 L220.56,112.27 L220.60,110.92 L220.64,109.57 L220.68,108.22 L220.72,106.87 L220.75,105.52 L220.79,104.17 L220.82,102.81 L220.86,101.46 L220.89,100.11 L220.92,98.76 L220.96,97.41 L221.00,96.06 L221.04,94.71 L221.08,93.36 L221.12,92.01 L221.16,90.66 L221.21,89.31 L221.26,87.96 L221.31,86.61 L221.36,85.26 L221.42,83.91 L221.49,82.56 L221.55,81.22 L221.63,79.87 L221.72,78.52 L221.82,77.18 L221.94,75.83 L222.08,74.49 L222.22,73.14 L222.37,71.80 L222.52,70.46 L222.68,69.11 L222.83,67.77 L222.98,66.43 L223.13,65.08 L223.27,63.74 L223.41,62.40 L223.55,61.05 L223.69,59.71 L223.83,58.36 L223.98,57.02 L224.13,55.67 L224.28,54.33 L224.45,52.99 L224.62,51.65 L224.80,50.32 L225.01,48.98 L225.22,47.65 L225.46,46.32 L225.71,44.99 L225.96,43.67 L226.22,42.34 L226.48,41.01 L226.74,39.68 L226.98,38.35 L227.22,37.02 L227.45,35.69 L227.70,34.36 L227.97,33.03 L228.28,31.73 L228.63,30.42 L229.03,29.12 L229.47,27.83 L229.96,26.56 L230.49,25.33 L231.06,24.13 L231.71,22.94 L232.44,21.77 L233.22,20.65 L234.06,19.58 L234.93,18.59 L235.87,17.65 L236.88,16.74 L237.94,15.87 L239.04,15.05 L240.16,14.27 L241.28,13.55 L242.43,12.85 L243.62,12.20 L244.84,11.58 L246.06,11.00 L247.30,10.47 L248.55,9.96 L249.82,9.48 L251.10,9.03 L252.39,8.63 L253.69,8.28 L255.00,7.96 L256.32,7.68 L257.65,7.42 L258.98,7.18 L260.31,6.95 L261.64,6.73 L262.98,6.52 L264.32,6.32 L265.66,6.13 L267.00,5.95 L268.33,5.78 L269.68,5.61 L271.02,5.45 L272.36,5.29 L273.70,5.14 L275.05,5.00 L276.39,4.88 L277.71,4.77 L278.89,4.64 L280.08,4.51 L281.27,4.38 L282.47,4.27 L283.68,4.15 L284.90,4.05 L286.13,3.95 L287.37,3.86 L288.62,3.78 L289.87,3.71 L291.14,3.64 L292.41,3.58 L293.69,3.53 L294.98,3.47 L296.26,3.42 L297.55,3.37 L298.88,3.33 L300.23,3.30 L301.58,3.27 L302.93,3.24 L304.28,3.21 L305.63,3.19 L306.98,3.16 L308.33,3.13 L309.68,3.10 L311.03,3.07 L312.38,3.04 L313.73,3.01 L315.08,2.99 L316.43,2.96 L317.79,2.94 L319.14,2.91 L320.49,2.89 L321.84,2.87 L323.19,2.85 L324.54,2.83 L325.89,2.82 L327.24,2.81 L328.59,2.80 L329.94,2.80 L331.29,2.80 L332.64,2.80 L334.00,2.79 L335.35,2.79 L336.70,2.79 L338.05,2.79 L339.40,2.79 L340.75,2.79 L342.10,2.78 L343.45,2.78 L344.80,2.78 L346.15,2.78 L347.50,2.78 L348.86,2.78 L350.21,2.78 L351.56,2.77 L352.91,2.77 L354.26,2.77 L355.61,2.77 L356.96,2.77 L358.31,2.77 L359.66,2.77 L361.01,2.77 L362.36,2.77 L363.72,2.76 L365.07,2.76 L366.42,2.76 L367.77,2.76 L369.12,2.76 L370.47,2.76 L371.82,2.76 L373.17,2.76 L374.52,2.76 L375.87,2.76 L377.22,2.76 L378.58,2.76 L379.93,2.76 L381.28,2.76 L382.63,2.75 L383.98,2.75 L385.33,2.75 L386.68,2.75 L388.03,2.75 L389.38,2.75 L390.73,2.75 L392.09,2.75 L393.44,2.75 L394.79,2.75 L396.14,2.75 L397.49,2.75 L398.84,2.75 L400.19,2.75 L401.54,2.75 L402.89,2.75 L404.24,2.75 L405.60,2.75 L406.95,2.75 L408.30,2.75 L409.65,2.75 L411.00,2.75" stroke="#5a14a0" stroke-width="1.45"/>
<path d="M66.50,264.80 L67.85,264.80 L69.20,264.80 L70.55,264.80 L71.90,264.80 L73.25,264.80 L74.61,264.80 L75.96,264.80 L77.31,264.80 L78.66,264.80 L80.01,264.80 L81.36,264.80 L82.71,264.80 L84.06,264.80 L85.41,264.80 L86.76,264.80 L88.11,264.80 L89.47,264.80 L90.82,264.80 L92.17,264.80 L93.52,264.80 L94.87,264.79 L96.22,264.79 L97.57,264.79 L98.92,264.79 L100.27,264.79 L101.62,264.79 L102.97,264.79 L104.33,264.79 L105.68,264.79 L107.03,264.79 L108.38,264.79 L109.73,264.79 L111.08,264.79 L112.43,264.79 L113.78,264.78 L115.13,264.78 L116.48,264.78 L117.83,264.78 L119.18,264.78 L120.54,264.78 L121.89,264.78 L123.24,264.78 L124.59,264.78 L125.94,264.78 L127.29,264.77 L128.64,264.77 L129.99,264.77 L131.34,264.77 L132.69,264.77 L134.04,264.77 L135.40,264.77 L136.75,264.77 L138.10,264.76 L139.45,264.76 L140.80,264.76 L142.15,264.76 L143.50,264.76 L144.85,264.76 L146.20,264.75 L147.55,264.75 L148.90,264.75 L150.25,264.75 L151.61,264.75 L152.96,264.74 L154.31,264.74 L155.66,264.74 L157.01,264.73 L158.36,264.73 L159.71,264.72 L161.06,264.71 L162.41,264.71 L163.76,264.70 L165.11,264.69 L166.47,264.68 L167.82,264.67 L169.17,264.66 L170.52,264.65 L171.87,264.64 L173.22,264.63 L174.57,264.61 L175.92,264.60 L177.27,264.59 L178.62,264.57 L179.97,264.56 L181.32,264.54 L182.68,264.53 L184.03,264.51 L185.38,264.50 L186.73,264.48 L188.08,264.46 L189.43,264.43 L190.78,264.40 L192.14,264.37 L193.49,264.34 L194.84,264.30 L196.19,264.25 L197.54,264.20 L198.89,264.15 L200.33,264.11 L201.84,264.04 L203.41,263.95 L205.04,263.83 L206.71,263.69 L208.39,263.55 L210.07,263.41 L211.41,263.21 L212.75,263.02 L214.09,262.84 L215.43,262.66 L216.77,262.48 L218.11,262.29 L219.44,262.09 L220.78,261.88 L222.11,261.66 L223.43,261.42 L224.76,261.16 L226.09,260.87 L227.41,260.55 L228.72,260.19 L229.99,259.79 L231.23,259.31 L232.46,258.73 L233.67,258.09 L234.84,257.39 L235.98,256.66 L237.08,255.91 L238.17,255.11 L239.23,254.25 L240.26,253.35 L241.26,252.42 L242.21,251.47 L243.11,250.49 L243.98,249.45 L244.81,248.37 L245.60,247.26 L246.34,246.14 L247.04,244.99 L247.70,243.81 L248.32,242.60 L248.93,241.39 L249.52,240.18 L250.09,238.96 L250.65,237.72 L251.18,236.48 L251.70,235.23 L252.22,233.98 L252.71,232.71 L253.13,231.44 L253.48,230.14 L253.79,228.84 L254.08,227.52 L254.35,226.20 L254.60,224.87 L254.83,223.53 L255.05,222.20 L255.27,220.85 L255.47,219.51 L255.68,218.18 L255.88,216.84 L256.07,215.50 L256.26,214.17 L256.44,212.83 L256.61,211.49 L256.78,210.15 L256.95,208.81 L257.11,207.46 L257.26,206.12 L257.41,204.78 L257.55,203.44 L257.70,202.09 L257.84,200.75 L257.98,199.41 L258.11,198.06 L258.24,196.71 L258.36,195.37 L258.47,194.02 L258.58,192.68 L258.67,191.33 L258.77,189.98 L258.86,188.64 L258.95,187.29 L259.03,185.94 L259.11,184.59 L259.19,183.24 L259.27,181.89 L259.35,180.55 L259.42,179.20 L259.49,177.85 L259.56,176.50 L259.63,175.15 L259.70,173.80 L259.77,172.45 L259.83,171.10 L259.89,169.75 L259.96,168.40 L260.02,167.05 L260.08,165.70 L260.15,164.35 L260.20,163.00 L260.26,161.65 L260.32,160.30 L260.37,158.95 L260.43,157.60 L260.48,156.25 L260.53,154.90 L260.58,153.55 L260.63,152.20 L260.68,150.85 L260.74,149.50 L260.79,148.15 L260.84,146.80 L260.90,145.45 L260.95,144.11 L261.01,142.76 L261.07,141.41 L261.12,140.06 L261.18,138.71 L261.24,137.36 L261.30,136.01 L261.36,134.66 L261.42,133.31 L261.48,131.96 L261.54,130.61 L261.60,129.26 L261.66,127.91 L261.71,126.56 L261.77,125.21 L261.82,123.86 L261.88,122.51 L261.93,121.16 L261.98,119.81 L262.03,118.46 L262.08,117.11 L262.13,115.76 L262.17,114.41 L262.22,113.06 L262.26,111.71 L262.30,110.36 L262.35,109.01 L262.39,107.66 L262.43,106.31 L262.47,104.96 L262.51,103.61 L262.55,102.26 L262.59,100.91 L262.63,99.56 L262.67,98.21 L262.71,96.86 L262.75,95.51 L262.79,94.16 L262.83,92.81 L262.88,91.46 L262.92,90.11 L262.97,88.76 L263.01,87.41 L263.06,86.06 L263.11,84.71 L263.16,83.36 L263.21,82.01 L263.27,80.66 L263.33,79.31 L263.39,77.96 L263.46,76.61 L263.53,75.26 L263.60,73.91 L263.67,72.56 L263.74,71.21 L263.81,69.86 L263.87,68.51 L263.94,67.16 L264.00,65.81 L264.06,64.47 L264.11,63.12 L264.16,61.77 L264.20,60.41 L264.24,59.06 L264.27,57.71 L264.30,56.36 L264.34,55.01 L264.37,53.66 L264.40,52.31 L264.44,50.96 L264.48,49.61 L264.53,48.26 L264.58,46.91 L264.64,45.56 L264.71,44.21 L264.82,42.87 L264.97,41.52 L265.12,40.18 L265.24,38.84 L265.34,37.49 L265.42,36.14 L265.50,34.79 L265.57,33.44 L265.64,32.09 L265.71,30.74 L265.79,29.39 L265.88,28.04 L265.98,26.70 L266.10,25.35 L266.24,24.01 L266.42,22.67 L266.63,21.33 L266.86,19.99 L267.12,18.67 L267.42,17.36 L267.77,16.05 L268.21,14.75 L268.71,13.49 L269.28,12.30 L270.00,11.12 L270.84,10.03 L271.77,9.11 L272.86,8.28 L274.05,7.59 L275.28,7.10 L276.55,6.70 L277.87,6.36 L279.21,6.07 L280.55,5.80 L281.87,5.54 L283.20,5.29 L284.53,5.06 L285.87,4.83 L286.95,4.59 L288.01,4.36 L289.12,4.17 L290.30,4.04 L291.49,3.92 L292.70,3.81 L293.93,3.71 L295.16,3.62 L296.41,3.54 L297.67,3.46 L298.93,3.39 L300.23,3.34 L301.58,3.29 L302.93,3.25 L304.28,3.22 L305.63,3.18 L306.98,3.15 L308.33,3.12 L309.69,3.09 L311.04,3.06 L312.39,3.03 L313.74,3.00 L315.09,2.97 L316.44,2.95 L317.79,2.92 L319.14,2.90 L320.49,2.88 L321.84,2.86 L323.19,2.85 L324.54,2.83 L325.89,2.82 L327.25,2.81 L328.60,2.80 L329.95,2.80 L331.30,2.80 L332.65,2.80 L334.00,2.79 L335.35,2.79 L336.70,2.79 L338.05,2.79 L339.40,2.79 L340.75,2.79 L342.10,2.78 L343.46,2.78 L344.81,2.78 L346.16,2.78 L347.51,2.78 L348.86,2.78 L350.21,2.78 L351.56,2.77 L352.91,2.77 L354.26,2.77 L355.61,2.77 L356.96,2.77 L358.31,2.77 L359.66,2.77 L361.02,2.77 L362.37,2.77 L363.72,2.76 L365.07,2.76 L366.42,2.76 L367.77,2.76 L369.12,2.76 L370.47,2.76 L371.82,2.76 L373.17,2.76 L374.52,2.76 L375.88,2.76 L377.23,2.76 L378.58,2.76 L379.93,2.76 L381.28,2.76 L382.63,2.75 L383.98,2.75 L385.33,2.75 L386.68,2.75 L388.03,2.75 L389.38,2.75 L390.74,2.75 L392.09,2.75 L393.44,2.75 L394.79,2.75 L396.14,2.75 L397.49,2.75 L398.84,2.75 L400.19,2.75 L401.54,2.75 L402.89,2.75 L404.24,2.75 L405.60,2.75 L406.95,2.75 L408.30,2.75 L409.65,2.75 L411.00,2.75" stroke="#5a14a0" stroke-width="1.45"/>
<path d="M66.50,264.80 L67.85,264.80 L69.20,264.80 L70.55,264.80 L71.90,264.80 L73.25,264.80 L74.61,264.80 L75.96,264.80 L77.31,264.80 L78.66,264.80 L80.01,264.80 L81.36,264.80 L82.71,264.80 L84.06,264.80 L85.41,264.80 L86.76,264.80 L88.12,264.80 L89.47,264.80 L90.82,264.80 L92.17,264.80 L93.52,264.80 L94.87,264.79 L96.22,264.79 L97.57,264.79 L98.92,264.79 L100.27,264.79 L101.63,264.79 L102.98,264.79 L104.33,264.79 L105.68,264.79 L107.03,264.79 L108.38,264.79 L109.73,264.79 L111.08,264.79 L112.43,264.79 L113.78,264.79 L115.13,264.78 L116.49,264.78 L117.84,264.78 L119.19,264.78 L120.54,264.78 L121.89,264.78 L123.24,264.78 L124.59,264.78 L125.94,264.78 L127.29,264.77 L128.64,264.77 L130.00,264.77 L131.35,264.77 L132.70,264.77 L134.05,264.77 L135.40,264.77 L136.75,264.77 L138.10,264.76 L139.45,264.76 L140.80,264.76 L142.15,264.76 L143.50,264.76 L144.86,264.76 L146.21,264.75 L147.56,264.75 L148.91,264.75 L150.26,264.75 L151.61,264.75 L152.96,264.74 L154.31,264.74 L155.66,264.73 L157.01,264.73 L158.37,264.72 L159.72,264.71 L161.07,264.71 L162.42,264.70 L163.77,264.69 L165.12,264.67 L166.47,264.66 L167.82,264.65 L169.17,264.64 L170.52,264.62 L171.87,264.61 L173.23,264.59 L174.58,264.57 L175.93,264.56 L177.28,264.54 L178.63,264.52 L179.98,264.50 L181.33,264.48 L182.69,264.45 L184.05,264.42 L185.42,264.39 L186.78,264.35 L188.13,264.29 L189.48,264.23 L190.81,264.16 L192.01,264.05 L193.05,263.85 L193.75,263.40 L194.23,262.78 L195.41,262.24 L196.67,261.73 L197.96,261.27 L199.27,260.81 L200.58,260.33 L201.81,259.78 L202.94,259.16 L203.96,258.38 L204.92,257.41 L205.81,256.31 L206.59,255.17 L207.24,254.03 L207.82,252.82 L208.34,251.56 L208.82,250.27 L209.24,248.97 L209.62,247.69 L209.97,246.38 L210.29,245.07 L210.58,243.74 L210.85,242.42 L211.10,241.09 L211.34,239.76 L211.56,238.42 L211.75,237.09 L211.92,235.75 L212.08,234.41 L212.23,233.06 L212.35,231.72 L212.46,230.37 L212.53,229.02 L212.60,227.67 L212.65,226.33 L212.70,224.98 L212.75,223.63 L212.79,222.28 L212.83,220.92 L212.86,219.57 L212.90,218.22 L212.94,216.87 L212.97,215.52 L213.01,214.17 L213.06,212.82 L213.11,211.47 L213.16,210.12 L213.22,208.77 L213.28,207.42 L213.34,206.07 L213.41,204.72 L213.47,203.37 L213.54,202.02 L213.60,200.67 L213.66,199.32 L213.71,197.97 L213.77,196.62 L213.81,195.27 L213.86,193.92 L213.90,192.57 L213.94,191.22 L213.97,189.87 L214.01,188.52 L214.05,187.17 L214.08,185.82 L214.11,184.47 L214.14,183.12 L214.18,181.77 L214.21,180.42 L214.24,179.07 L214.27,177.72 L214.30,176.37 L214.33,175.01 L214.36,173.66 L214.39,172.31 L214.43,170.96 L214.46,169.61 L214.50,168.26 L214.53,166.91 L214.57,165.56 L214.61,164.21 L214.65,162.86 L214.70,161.51 L214.74,160.16 L214.78,158.81 L214.82,157.46 L214.87,156.11 L214.91,154.76 L214.96,153.41 L215.00,152.06 L215.05,150.71 L215.10,149.36 L215.14,148.01 L215.19,146.66 L215.25,145.31 L215.30,143.96 L215.35,142.61 L215.40,141.26 L215.46,139.91 L215.52,138.56 L215.58,137.21 L215.64,135.86 L215.70,134.51 L215.77,133.16 L215.85,131.81 L215.93,130.46 L216.01,129.11 L216.10,127.77 L216.18,126.42 L216.26,125.07 L216.34,123.72 L216.42,122.37 L216.49,121.02 L216.55,119.67 L216.61,118.32 L216.67,116.97 L216.72,115.62 L216.77,114.27 L216.82,112.92 L216.86,111.57 L216.90,110.22 L216.94,108.87 L216.98,107.52 L217.02,106.17 L217.05,104.82 L217.09,103.47 L217.12,102.11 L217.16,100.76 L217.19,99.41 L217.22,98.06 L217.26,96.71 L217.30,95.36 L217.34,94.01 L217.38,92.66 L217.42,91.31 L217.46,89.96 L217.51,88.61 L217.56,87.26 L217.61,85.91 L217.66,84.56 L217.72,83.21 L217.79,81.86 L217.85,80.52 L217.93,79.17 L218.02,77.82 L218.12,76.48 L218.24,75.13 L218.38,73.79 L218.52,72.44 L218.67,71.10 L218.82,69.76 L218.98,68.41 L219.13,67.07 L219.28,65.73 L219.43,64.38 L219.57,63.04 L219.71,61.70 L219.85,60.35 L219.99,59.01 L220.13,57.66 L220.28,56.32 L220.43,54.97 L220.58,53.63 L220.75,52.29 L220.92,50.95 L221.10,49.62 L221.31,48.28 L221.52,46.95 L221.76,45.62 L222.01,44.29 L222.26,42.97 L222.52,41.64 L222.78,40.31 L223.04,38.98 L223.28,37.65 L223.52,36.32 L223.75,34.99 L224.00,33.66 L224.27,32.33 L224.58,31.03 L224.93,29.72 L225.33,28.42 L225.77,27.13 L226.26,25.86 L226.79,24.63 L227.36,23.43 L228.01,22.24 L228.74,21.07 L229.52,19.95 L230.36,18.88 L231.23,17.89 L232.17,16.95 L233.18,16.04 L234.24,15.17 L235.34,14.35 L236.46,13.57 L237.58,12.85 L238.73,12.15 L239.92,11.50 L241.14,10.88 L242.36,10.30 L243.60,9.77 L244.85,9.26 L246.12,8.78 L247.40,8.33 L248.69,7.93 L249.99,7.58 L251.30,7.26 L252.62,6.98 L253.95,6.72 L255.28,6.48 L256.61,6.25 L257.94,6.03 L259.28,5.82 L260.62,5.62 L261.96,5.43 L263.30,5.25 L264.63,5.08 L265.98,4.91 L267.32,4.75 L268.66,4.59 L270.00,4.44 L271.35,4.30 L272.69,4.18 L274.06,4.08 L275.59,4.01 L277.11,3.94 L278.62,3.88 L280.12,3.82 L281.61,3.76 L283.10,3.71 L284.58,3.66 L286.04,3.61 L287.50,3.57 L288.95,3.53 L290.39,3.50 L291.82,3.47 L293.24,3.44 L294.66,3.41 L296.08,3.39 L297.49,3.36 L298.88,3.33 L300.23,3.30 L301.58,3.27 L302.93,3.24 L304.28,3.21 L305.63,3.19 L306.98,3.16 L308.33,3.13 L309.68,3.10 L311.03,3.07 L312.38,3.04 L313.73,3.01 L315.08,2.99 L316.43,2.96 L317.79,2.94 L319.14,2.91 L320.49,2.89 L321.84,2.87 L323.19,2.85 L324.54,2.83 L325.89,2.82 L327.24,2.81 L328.59,2.80 L329.94,2.80 L331.29,2.80 L332.64,2.80 L334.00,2.79 L335.35,2.79 L336.70,2.79 L338.05,2.79 L339.40,2.79 L340.75,2.79 L342.10,2.78 L343.45,2.78 L344.80,2.78 L346.15,2.78 L347.50,2.78 L348.86,2.78 L350.21,2.78 L351.56,2.77 L352.91,2.77 L354.26,2.77 L355.61,2.77 L356.96,2.77 L358.31,2.77 L359.66,2.77 L361.01,2.77 L362.36,2.77 L363.72,2.76 L365.07,2.76 L366.42,2.76 L367.77,2.76 L369.12,2.76 L370.47,2.76 L371.82,2.76 L373.17,2.76 L374.52,2.76 L375.87,2.76 L377.22,2.76 L378.58,2.76 L379.93,2.76 L381.28,2.76 L382.63,2.75 L383.98,2.75 L385.33,2.75 L386.68,2.75 L388.03,2.75 L389.38,2.75 L390.73,2.75 L392.09,2.75 L393.44,2.75 L394.79,2.75 L396.14,2.75 L397.49,2.75 L398.84,2.75 L400.19,2.75 L401.54,2.75 L402.89,2.75 L404.24,2.75 L405.60,2.75 L406.95,2.75 L408.30,2.75 L409.65,2.75 L411.00,2.75" stroke="#161616" stroke-width="1.5"/>
<path d="M66.50,264.80 L67.85,264.80 L69.20,264.80 L70.55,264.80 L71.90,264.80 L73.25,264.80 L74.61,264.80 L75.96,264.80 L77.31,264.80 L78.66,264.80 L80.01,264.80 L81.36,264.80 L82.71,264.80 L84.06,264.80 L85.41,264.80 L86.76,264.80 L88.11,264.80 L89.47,264.80 L90.82,264.80 L92.17,264.80 L93.52,264.80 L94.87,264.79 L96.22,264.79 L97.57,264.79 L98.92,264.79 L100.27,264.79 L101.62,264.79 L102.97,264.79 L104.33,264.79 L105.68,264.79 L107.03,264.79 L108.38,264.79 L109.73,264.79 L111.08,264.79 L112.43,264.79 L113.78,264.78 L115.13,264.78 L116.48,264.78 L117.83,264.78 L119.18,264.78 L120.54,264.78 L121.89,264.78 L123.24,264.78 L124.59,264.78 L125.94,264.78 L127.29,264.77 L128.64,264.77 L129.99,264.77 L131.34,264.77 L132.69,264.77 L134.04,264.77 L135.40,264.77 L136.75,264.77 L138.10,264.76 L139.45,264.76 L140.80,264.76 L142.15,264.76 L143.50,264.76 L144.85,264.76 L146.20,264.75 L147.55,264.75 L148.90,264.75 L150.25,264.75 L151.61,264.75 L152.96,264.74 L154.31,264.74 L155.66,264.74 L157.01,264.73 L158.36,264.73 L159.71,264.72 L161.06,264.71 L162.41,264.71 L163.76,264.70 L165.11,264.69 L166.47,264.68 L167.82,264.67 L169.17,264.66 L170.52,264.65 L171.87,264.64 L173.22,264.63 L174.57,264.61 L175.92,264.60 L177.27,264.59 L178.62,264.57 L179.97,264.56 L181.32,264.54 L182.68,264.53 L184.03,264.51 L185.38,264.50 L186.73,264.48 L188.08,264.46 L189.43,264.43 L190.78,264.40 L192.14,264.37 L193.49,264.34 L194.84,264.30 L196.19,264.25 L197.54,264.20 L198.88,264.15 L200.12,264.07 L201.30,263.94 L202.39,263.75 L203.42,263.52 L204.42,263.26 L205.39,262.98 L206.37,262.71 L207.71,262.51 L209.05,262.32 L210.39,262.14 L211.73,261.96 L213.07,261.78 L214.41,261.59 L215.74,261.39 L217.08,261.18 L218.41,260.96 L219.73,260.72 L221.06,260.46 L222.39,260.17 L223.71,259.85 L225.02,259.49 L226.29,259.09 L227.53,258.61 L228.76,258.03 L229.97,257.39 L231.14,256.69 L232.28,255.96 L233.38,255.21 L234.47,254.41 L235.53,253.55 L236.56,252.65 L237.56,251.72 L238.51,250.77 L239.41,249.79 L240.28,248.75 L241.11,247.67 L241.90,246.56 L242.64,245.44 L243.34,244.29 L244.00,243.11 L244.62,241.90 L245.23,240.69 L245.82,239.48 L246.39,238.26 L246.95,237.02 L247.48,235.78 L248.00,234.53 L248.52,233.28 L249.01,232.01 L249.43,230.74 L249.78,229.44 L250.09,228.14 L250.38,226.82 L250.65,225.50 L250.90,224.17 L251.13,222.83 L251.35,221.50 L251.57,220.15 L251.77,218.81 L251.98,217.48 L252.18,216.14 L252.37,214.80 L252.56,213.47 L252.74,212.13 L252.91,210.79 L253.08,209.45 L253.25,208.11 L253.41,206.76 L253.56,205.42 L253.71,204.08 L253.85,202.74 L254.00,201.39 L254.14,200.05 L254.28,198.71 L254.41,197.36 L254.54,196.01 L254.66,194.67 L254.77,193.32 L254.88,191.98 L254.97,190.63 L255.07,189.28 L255.16,187.94 L255.25,186.59 L255.33,185.24 L255.41,183.89 L255.49,182.54 L255.57,181.19 L255.65,179.85 L255.72,178.50 L255.79,177.15 L255.86,175.80 L255.93,174.45 L256.00,173.10 L256.07,171.75 L256.13,170.40 L256.19,169.05 L256.26,167.70 L256.32,166.35 L256.38,165.00 L256.45,163.65 L256.50,162.30 L256.56,160.95 L256.62,159.60 L256.67,158.25 L256.73,156.90 L256.78,155.55 L256.83,154.20 L256.88,152.85 L256.93,151.50 L256.98,150.15 L257.04,148.80 L257.09,147.45 L257.14,146.10 L257.20,144.75 L257.25,143.41 L257.31,142.06 L257.37,140.71 L257.42,139.36 L257.48,138.01 L257.54,136.66 L257.60,135.31 L257.66,133.96 L257.72,132.61 L257.78,131.26 L257.84,129.91 L257.90,128.56 L257.96,127.21 L258.01,125.86 L258.07,124.51 L258.12,123.16 L258.18,121.81 L258.23,120.46 L258.28,119.11 L258.33,117.76 L258.38,116.41 L258.43,115.06 L258.47,113.71 L258.52,112.36 L258.56,111.01 L258.60,109.66 L258.65,108.31 L258.69,106.96 L258.73,105.61 L258.77,104.26 L258.81,102.91 L258.85,101.56 L258.89,100.21 L258.93,98.86 L258.97,97.51 L259.01,96.16 L259.05,94.81 L259.09,93.46 L259.13,92.11 L259.18,90.76 L259.22,89.41 L259.27,88.06 L259.31,86.71 L259.36,85.36 L259.41,84.01 L259.46,82.66 L259.51,81.31 L259.57,79.96 L259.63,78.61 L259.69,77.26 L259.76,75.91 L259.83,74.56 L259.90,73.21 L259.97,71.86 L260.04,70.51 L260.11,69.16 L260.17,67.81 L260.24,66.46 L260.30,65.11 L260.36,63.77 L260.41,62.42 L260.46,61.07 L260.50,59.71 L260.54,58.36 L260.57,57.01 L260.60,55.66 L260.64,54.31 L260.67,52.96 L260.70,51.61 L260.74,50.26 L260.78,48.91 L260.83,47.56 L260.88,46.21 L260.94,44.86 L261.01,43.51 L261.12,42.17 L261.27,40.82 L261.42,39.48 L261.54,38.14 L261.64,36.79 L261.72,35.44 L261.80,34.09 L261.87,32.74 L261.94,31.39 L262.01,30.04 L262.09,28.69 L262.18,27.34 L262.28,26.00 L262.40,24.65 L262.54,23.31 L262.72,21.97 L262.93,20.63 L263.16,19.29 L263.42,17.97 L263.72,16.66 L264.07,15.35 L264.51,14.05 L265.01,12.79 L265.58,11.60 L266.30,10.42 L267.14,9.33 L268.07,8.41 L269.16,7.58 L270.35,6.89 L271.58,6.40 L272.85,6.00 L274.17,5.66 L275.51,5.37 L276.85,5.10 L278.17,4.84 L279.50,4.59 L280.83,4.36 L282.17,4.13 L283.78,3.99 L285.42,3.87 L287.01,3.77 L288.53,3.70 L290.03,3.64 L291.52,3.59 L293.00,3.54 L294.46,3.49 L295.92,3.45 L297.38,3.41 L298.82,3.37 L300.23,3.34 L301.58,3.29 L302.93,3.25 L304.28,3.22 L305.63,3.18 L306.98,3.15 L308.33,3.12 L309.69,3.09 L311.04,3.06 L312.39,3.03 L313.74,3.00 L315.09,2.97 L316.44,2.95 L317.79,2.92 L319.14,2.90 L320.49,2.88 L321.84,2.86 L323.19,2.85 L324.54,2.83 L325.89,2.82 L327.25,2.81 L328.60,2.80 L329.95,2.80 L331.30,2.80 L332.65,2.80 L334.00,2.79 L335.35,2.79 L336.70,2.79 L338.05,2.79 L339.40,2.79 L340.75,2.79 L342.10,2.78 L343.46,2.78 L344.81,2.78 L346.16,2.78 L347.51,2.78 L348.86,2.78 L350.21,2.78 L351.56,2.77 L352.91,2.77 L354.26,2.77 L355.61,2.77 L356.96,2.77 L358.31,2.77 L359.66,2.77 L361.02,2.77 L362.37,2.77 L363.72,2.76 L365.07,2.76 L366.42,2.76 L367.77,2.76 L369.12,2.76 L370.47,2.76 L371.82,2.76 L373.17,2.76 L374.52,2.76 L375.88,2.76 L377.23,2.76 L378.58,2.76 L379.93,2.76 L381.28,2.76 L382.63,2.75 L383.98,2.75 L385.33,2.75 L386.68,2.75 L388.03,2.75 L389.38,2.75 L390.74,2.75 L392.09,2.75 L393.44,2.75 L394.79,2.75 L396.14,2.75 L397.49,2.75 L398.84,2.75 L400.19,2.75 L401.54,2.75 L402.89,2.75 L404.24,2.75 L405.60,2.75 L406.95,2.75 L408.30,2.75 L409.65,2.75 L411.00,2.75" stroke="#161616" stroke-width="1.5"/>
</g>
<path d="M83.52,264.1 v-8.6 M83.52,3.4 v8.6 M100.74,264.1 v-4.5 M100.74,3.4 v4.5 M117.96,264.1 v-4.5 M117.96,3.4 v4.5 M135.18,264.1 v-8.6 M135.18,3.4 v8.6 M152.40,264.1 v-4.5 M152.40,3.4 v4.5 M169.62,264.1 v-4.5 M169.62,3.4 v4.5 M186.84,264.1 v-8.6 M186.84,3.4 v8.6 M204.06,264.1 v-4.5 M204.06,3.4 v4.5 M221.28,264.1 v-4.5 M221.28,3.4 v4.5 M238.50,264.1 v-8.6 M238.50,3.4 v8.6 M255.72,264.1 v-4.5 M255.72,3.4 v4.5 M272.94,264.1 v-4.5 M272.94,3.4 v4.5 M290.16,264.1 v-8.6 M290.16,3.4 v8.6 M307.38,264.1 v-4.5 M307.38,3.4 v4.5 M324.60,264.1 v-4.5 M324.60,3.4 v4.5 M341.82,264.1 v-8.6 M341.82,3.4 v8.6 M359.04,264.1 v-4.5 M359.04,3.4 v4.5 M376.26,264.1 v-4.5 M376.26,3.4 v4.5 M393.48,264.1 v-8.6 M393.48,3.4 v8.6 M66.3,251.11 h8.6 M410.7,251.11 h-8.6 M66.3,238.07 h4.5 M410.7,238.07 h-4.5 M66.3,225.03 h4.5 M410.7,225.03 h-4.5 M66.3,211.99 h8.6 M410.7,211.99 h-8.6 M66.3,198.95 h4.5 M410.7,198.95 h-4.5 M66.3,185.91 h4.5 M410.7,185.91 h-4.5 M66.3,172.87 h8.6 M410.7,172.87 h-8.6 M66.3,159.83 h4.5 M410.7,159.83 h-4.5 M66.3,146.79 h4.5 M410.7,146.79 h-4.5 M66.3,133.75 h8.6 M410.7,133.75 h-8.6 M66.3,120.71 h4.5 M410.7,120.71 h-4.5 M66.3,107.67 h4.5 M410.7,107.67 h-4.5 M66.3,94.63 h8.6 M410.7,94.63 h-8.6 M66.3,81.59 h4.5 M410.7,81.59 h-4.5 M66.3,68.55 h4.5 M410.7,68.55 h-4.5 M66.3,55.51 h8.6 M410.7,55.51 h-8.6 M66.3,42.47 h4.5 M410.7,42.47 h-4.5 M66.3,29.43 h4.5 M410.7,29.43 h-4.5 M66.3,16.39 h8.6 M410.7,16.39 h-8.6" stroke="#333" stroke-width="1.1" fill="none"/>
<rect x="66.3" y="3.4" width="344.4" height="260.70000000000005" fill="none" stroke="#000" stroke-width="1.05"/>
<path d="M288.3,124 H310.8" stroke="#ff3333" stroke-width="1.6"/>
<path d="M288.3,143.3 H310.8" stroke="#3333ff" stroke-width="1.6"/>
<path d="M288.3,162.9 H310.8" stroke="#468c46" stroke-width="1.6"/>
<path d="M288.3,202 H310.8" stroke="#ffb84d" stroke-width="1.6"/>
<path d="M288.3,221.3 H310.8" stroke="#6a2fa0" stroke-width="1.6"/>
<path d="M288.3,240.9 H310.8" stroke="#6e6e6e" stroke-width="1.6"/>
</svg>
<div class="t" style="font-size:14.7px;top:9px;letter-spacing:0.4px;right:359.8px;transform-origin:100% 0;">0.9</div>
<div class="t" style="font-size:14.7px;top:48px;letter-spacing:0.4px;right:359.8px;transform-origin:100% 0;">0.6</div>
<div class="t" style="font-size:14.7px;top:87px;letter-spacing:0.4px;right:359.8px;transform-origin:100% 0;">0.3</div>
<div class="t" style="font-size:14.7px;top:126px;letter-spacing:0.4px;right:359.8px;transform-origin:100% 0;">0</div>
<div class="t" style="font-size:14.7px;top:166px;letter-spacing:0.4px;right:359.8px;transform-origin:100% 0;"><span style="display:inline-block;transform:scaleX(1.35);margin:0 1.5px">−</span>0.3</div>
<div class="t" style="font-size:14.7px;top:205px;letter-spacing:0.4px;right:359.8px;transform-origin:100% 0;"><span style="display:inline-block;transform:scaleX(1.35);margin:0 1.5px">−</span>0.6</div>
<div class="t" style="font-size:14.7px;top:244px;letter-spacing:0.4px;right:359.8px;transform-origin:100% 0;"><span style="display:inline-block;transform:scaleX(1.35);margin:0 1.5px">−</span>0.9</div>
<div class="t" style="font-size:14.7px;top:276px;left:64.02000000000001px;width:40px;text-align:center;transform-origin:50% 0;"><span style="display:inline-block;transform:scaleX(1.35);margin:0 1.5px">−</span>9</div>
<div class="t" style="font-size:14.7px;top:276px;left:115.68px;width:40px;text-align:center;transform-origin:50% 0;"><span style="display:inline-block;transform:scaleX(1.35);margin:0 1.5px">−</span>6</div>
<div class="t" style="font-size:14.7px;top:276px;left:167.34px;width:40px;text-align:center;transform-origin:50% 0;"><span style="display:inline-block;transform:scaleX(1.35);margin:0 1.5px">−</span>3</div>
<div class="t" style="font-size:14.7px;top:276px;left:219.0px;width:40px;text-align:center;transform-origin:50% 0;">0</div>
<div class="t" style="font-size:14.7px;top:276px;left:270.65999999999997px;width:40px;text-align:center;transform-origin:50% 0;">3</div>
<div class="t" style="font-size:14.7px;top:276px;left:322.32px;width:40px;text-align:center;transform-origin:50% 0;">6</div>
<div class="t" style="font-size:14.7px;top:276px;left:373.98px;width:40px;text-align:center;transform-origin:50% 0;">9</div>
<div class="t" style="font-size:15.2px;top:125px;font-style:italic;left:1.5px;transform-origin:0 0;transform:scaleX(1.06);">M</div>
<div class="t" style="font-size:15.2px;top:298px;font-style:italic;left:233.3px;transform-origin:0 0;transform:scaleX(1.07);">B</div>
<div class="t" style="font-size:13.8px;top:35px;letter-spacing:0.1px;left:175.2px;transform-origin:0 0;">RFIM</div>
<div class="t" style="font-size:13.8px;top:152px;letter-spacing:-0.3px;left:161.4px;transform-origin:0 0;">VBM</div>
<div class="t" style="font-size:15.2px;top:96px;letter-spacing:0.1px;left:319.75px;transform-origin:0 0;">VBM</div>
<div class="t" style="font-size:15.2px;top:96px;left:359.0px;transform-origin:0 0;">:</div>
<div class="t" style="font-size:15.2px;top:115px;font-style:italic;left:320.0px;transform-origin:0 0;transform:scaleX(1.1);">N</div>
<div class="t" style="font-size:14.7px;top:117px;left:338.6px;transform-origin:0 0;transform:scaleX(1.35);">=</div>
<div class="t" style="font-size:14.7px;top:116px;letter-spacing:0.25px;left:353.8px;transform-origin:0 0;">1000</div>
<div class="t" style="font-size:15.2px;top:135px;font-style:italic;left:320.0px;transform-origin:0 0;transform:scaleX(1.1);">N</div>
<div class="t" style="font-size:14.7px;top:137px;left:338.6px;transform-origin:0 0;transform:scaleX(1.35);">=</div>
<div class="t" style="font-size:14.7px;top:136px;letter-spacing:0.25px;left:353.8px;transform-origin:0 0;">5000</div>
<div class="t" style="font-size:15.2px;top:154px;font-style:italic;left:320.0px;transform-origin:0 0;transform:scaleX(1.1);">N</div>
<div class="t" style="font-size:14.7px;top:156px;left:338.6px;transform-origin:0 0;transform:scaleX(1.35);">=</div>
<div class="t" style="font-size:14.7px;top:155px;letter-spacing:0.25px;left:353.8px;transform-origin:0 0;">10000</div>
<div class="t" style="font-size:15.2px;top:174px;letter-spacing:0.9px;left:319.8px;transform-origin:0 0;">RFIM</div>
<div class="t" style="font-size:15.2px;top:174px;left:365.0px;transform-origin:0 0;">:</div>
<div class="t" style="font-size:15.2px;top:193px;font-style:italic;left:320.0px;transform-origin:0 0;transform:scaleX(1.05);">L</div>
<div class="t" style="font-size:14.7px;top:195px;left:335.1px;transform-origin:0 0;transform:scaleX(1.35);">=</div>
<div class="t" style="font-size:14.7px;top:194px;letter-spacing:0.25px;left:349.8px;transform-origin:0 0;">100</div>
<div class="t" style="font-size:15.2px;top:213px;font-style:italic;left:320.0px;transform-origin:0 0;transform:scaleX(1.05);">L</div>
<div class="t" style="font-size:14.7px;top:215px;left:335.1px;transform-origin:0 0;transform:scaleX(1.35);">=</div>
<div class="t" style="font-size:14.7px;top:214px;letter-spacing:0.25px;left:349.8px;transform-origin:0 0;">150</div>
<div class="t" style="font-size:15.2px;top:233px;font-style:italic;left:320.0px;transform-origin:0 0;transform:scaleX(1.05);">L</div>
<div class="t" style="font-size:14.7px;top:235px;left:335.1px;transform-origin:0 0;transform:scaleX(1.35);">=</div>
<div class="t" style="font-size:14.7px;top:234px;letter-spacing:0.25px;left:349.8px;transform-origin:0 0;">200</div>
</body></html>
